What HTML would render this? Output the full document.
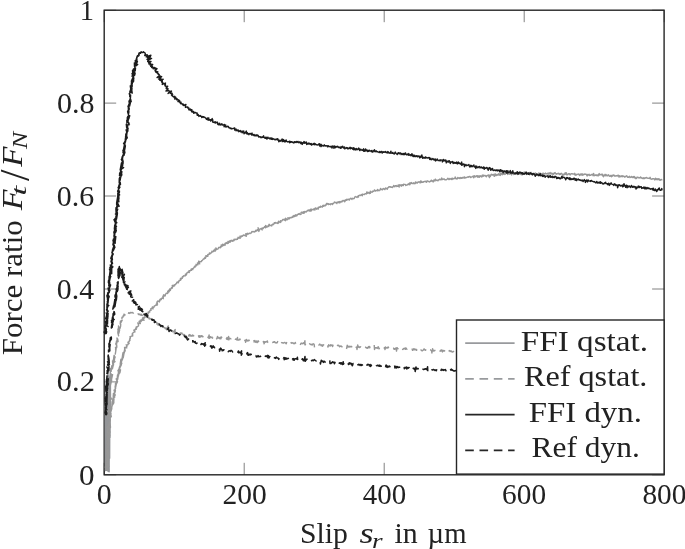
<!DOCTYPE html>
<html lang="en"><head><meta charset="utf-8"><title>Force ratio over slip</title>
<style>
html,body{margin:0;padding:0;background:#fff;}
body{width:685px;height:549px;overflow:hidden;}
svg{display:block;}
text{font-family:"Liberation Serif","DejaVu Serif",serif;font-size:28.4px;fill:#222;}
.it{font-style:italic;font-size:29.4px;}
.sub{font-size:20px;}
.sl{font-size:41.6px;}
.d{font-size:29.2px;}
</style></head><body>
<svg width="685" height="549" viewBox="0 0 685 549">
<rect x="0" y="0" width="685" height="549" fill="#fff"/>
<g stroke="#808080" stroke-width="1" fill="none"><line x1="104.2" y1="474.8" x2="104.2" y2="462.8"/><line x1="104.2" y1="10.2" x2="104.2" y2="22.2"/><line x1="244.2" y1="474.8" x2="244.2" y2="462.8"/><line x1="244.2" y1="10.2" x2="244.2" y2="22.2"/><line x1="384.2" y1="474.8" x2="384.2" y2="462.8"/><line x1="384.2" y1="10.2" x2="384.2" y2="22.2"/><line x1="524.2" y1="474.8" x2="524.2" y2="462.8"/><line x1="524.2" y1="10.2" x2="524.2" y2="22.2"/><line x1="664.2" y1="474.8" x2="664.2" y2="462.8"/><line x1="664.2" y1="10.2" x2="664.2" y2="22.2"/><line x1="104.2" y1="474.8" x2="116.2" y2="474.8"/><line x1="664.1" y1="474.8" x2="652.1" y2="474.8"/><line x1="104.2" y1="381.9" x2="116.2" y2="381.9"/><line x1="664.1" y1="381.9" x2="652.1" y2="381.9"/><line x1="104.2" y1="289.0" x2="116.2" y2="289.0"/><line x1="664.1" y1="289.0" x2="652.1" y2="289.0"/><line x1="104.2" y1="196.0" x2="116.2" y2="196.0"/><line x1="664.1" y1="196.0" x2="652.1" y2="196.0"/><line x1="104.2" y1="103.1" x2="116.2" y2="103.1"/><line x1="664.1" y1="103.1" x2="652.1" y2="103.1"/><line x1="104.2" y1="10.2" x2="116.2" y2="10.2"/><line x1="664.1" y1="10.2" x2="652.1" y2="10.2"/></g>
<rect x="104.2" y="10.2" width="559.9" height="464.6" fill="none" stroke="#262626" stroke-width="1.4"/>
<g fill="none" stroke-linejoin="round" stroke-linecap="butt">
<polyline points="105.3,403.8 105.5,470.5 105.8,401.9 106.0,470.5 106.2,379.7 106.4,470.0 106.7,385.8 106.9,469.8 107.1,384.2 107.3,470.5 107.6,374.8 107.8,470.9 108.0,389.8 108.2,470.4 108.5,375.1 108.7,471.4 108.9,394.1 109.1,471.7 109.4,377.4 109.6,458.3 109.8,392.7 110.0,437.4 110.3,368.6 110.5,418.0" stroke="#939598" stroke-width="1.5"/>
<path d="M106.4 470.0 L106.2 469.8 L106.7 465.7 L107.0 467.2 L106.9 470.0 L105.4 467.5 L107.1 468.3 L105.5 466.2 L106.9 469.2 L106.4 465.0 L106.0 464.5 L106.4 461.3 L105.9 463.3 L106.7 462.5 L107.1 466.0 L107.3 458.0 L106.6 465.8 L107.4 459.3 L107.0 461.7 L107.9 462.3 L107.0 461.3 L106.4 460.8 L106.7 458.2 L106.4 458.7 M106.7 452.6 L108.5 450.5 L106.3 450.1 L107.0 453.5 L106.8 452.6 L106.2 450.9 L107.3 448.5 L107.2 447.8 L106.3 450.4 L105.8 449.7 L107.1 449.6 L106.4 448.6 L107.6 447.5 L107.1 446.8 L107.7 441.9 L107.1 446.5 L108.1 445.6 L107.7 443.6 L108.1 445.9 L107.4 444.3 L106.8 443.0 L106.7 440.9 L107.0 444.6 L107.7 438.8 L107.1 441.7 M107.6 438.0 L108.5 430.9 L106.9 434.8 L108.0 436.4 L108.7 429.9 L107.5 433.7 L107.5 430.4 L108.5 433.7 L108.0 432.0 L108.4 434.4 L108.2 434.4 L108.5 432.0 L107.9 429.7 L106.9 427.4 L108.6 423.7 L107.6 430.1 L108.5 425.5 L107.7 428.2 L109.0 426.9 L107.9 429.0 L108.5 428.5 L108.7 426.6 L108.0 426.9 L108.4 424.0 M107.4 416.9 L108.9 417.3 L109.6 416.0 L108.1 418.1 L107.6 415.5 L108.9 418.9 L108.7 412.8 L106.4 414.7 L108.3 414.2 L107.9 412.8 L108.1 413.5 L109.9 413.6 L109.5 410.2 L108.7 411.8 L108.8 413.4 L109.8 410.2 L108.1 413.9 L109.5 406.8 L108.6 409.9 L109.5 409.0 L109.4 404.1 L108.9 403.7 L109.7 407.4 L109.5 405.8 M109.3 406.8 L109.6 401.6 L110.0 397.9 L109.2 402.3 L108.6 397.0 L110.5 397.1 L109.0 398.6 L110.7 398.2 L109.9 397.4 L111.4 398.9 L110.4 397.2 L110.0 396.2 L110.4 394.4 L109.2 393.4 L109.9 396.1 L109.8 392.4 L109.8 395.1 L108.8 393.3 L108.8 391.8 L110.4 392.2 L110.1 391.8 L109.9 390.5 L110.0 391.7 L109.7 391.4 M110.1 386.3 L111.3 381.5 L111.3 381.6 L111.4 381.8 L110.4 381.7 L111.2 379.2 L111.7 380.0 L110.7 383.6 L111.0 379.1 L110.5 379.7 L111.4 379.9 L111.3 377.6 L111.6 378.6 L110.5 383.9 L112.6 374.6 L111.4 375.0 L110.5 376.8 L111.4 376.9 L111.7 375.2 L111.9 377.7 L111.3 374.0 L111.2 374.6 L111.3 374.3 L111.2 374.9 M111.1 371.9 L111.5 367.7 L111.8 365.8 L111.3 368.8 L112.4 368.8 L113.3 365.0 L113.3 363.1 L112.9 365.2 L112.5 360.9 L113.5 364.9 L113.4 359.2 L114.2 362.2 L115.0 361.7 L113.9 360.1 L114.2 360.3 L115.0 356.8 L114.1 355.4 L113.7 358.2 L113.7 359.1 L113.9 360.7 L114.5 359.5 L114.6 357.4 L115.2 357.2 L114.4 356.5 M115.2 354.6 L116.1 348.9 L115.6 350.0 L115.7 347.4 L115.5 347.6 L116.0 348.3 L116.7 347.8 L116.7 345.2 L116.2 347.4 L116.6 346.9 L116.9 346.0 L115.7 343.8 L116.5 343.2 L117.5 340.8 L116.0 344.1 L116.5 341.0 L116.7 344.3 L116.6 341.3 L117.4 341.8 L117.0 338.0 L117.3 339.8 L118.1 341.6 L117.7 339.0 L116.3 338.7 M117.7 332.4 L118.6 335.7 L117.9 331.9 L118.2 329.5 L118.1 333.9 L118.9 329.9 L118.9 333.2 L119.6 330.1 L118.7 329.4 L118.5 326.0 L119.0 330.6 L119.5 328.4 L120.6 326.4 L117.9 329.8 L118.7 327.1 L119.9 328.6 L120.2 327.8 L120.8 324.6 L120.2 323.9 L122.2 320.1 L120.6 321.6 L120.4 321.1 L120.3 323.7 L120.4 323.5 M122.3 318.8 L121.8 318.1 L122.2 317.7 L122.1 317.1 L123.1 317.0 L123.1 316.3 L123.2 315.7 L124.1 315.7 L124.0 315.0 L123.9 314.2 L125.2 314.8 L125.4 314.5 M128.4 313.9 L128.7 312.6 L129.3 313.0 L129.9 313.4 L130.3 312.7 L130.8 312.4 L131.3 312.6 L131.8 312.9 L132.4 312.4 L132.8 312.9 L133.3 313.1 L133.8 312.7 M137.9 313.3 L138.2 314.1 L138.6 314.5 L139.1 314.6 L139.8 314.0 L140.0 314.8 L140.5 315.0 L141.3 314.3 L141.5 315.3 L142.1 315.1 L142.6 315.1 L143.0 315.6 M146.4 316.6 L146.9 316.7 L147.2 317.2 L147.6 317.6 L148.3 317.1 L148.7 317.4 L148.9 318.2 L149.1 318.9 L149.9 318.3 L150.1 319.0 L151.0 318.5 L151.2 319.1 M154.4 321.5 L154.8 321.9 L155.6 321.6 L155.9 322.0 L156.1 322.6 L156.8 322.6 L157.0 323.0 L156.9 324.1 L158.0 323.4 L158.2 323.9 L158.1 325.2 L159.0 324.5 M162.0 327.5 L162.8 327.0 L163.5 326.7 L163.8 327.3 L164.1 327.7 L164.8 327.6 L165.2 327.8 L165.3 328.8 L166.0 328.5 L166.4 328.8 L168.3 326.0 L166.8 330.5 M170.5 331.0 L171.1 330.7 L171.4 331.3 L172.2 330.8 L172.7 330.8 L172.8 331.9 L173.4 331.7 L174.0 331.6 L175.2 329.5 L174.4 333.6 L175.5 331.9 L175.9 332.1 M179.5 334.1 L180.2 333.2 L180.8 333.0 L181.1 333.7 L181.8 332.9 L182.1 333.9 L182.6 334.1 L183.1 334.1 L183.4 335.0 L183.9 335.2 L184.5 334.6 L185.1 334.3 M188.6 334.5 L188.9 336.1 L189.6 334.6 L190.0 335.8 L190.6 335.0 L190.9 336.0 L191.5 335.8 L191.9 336.1 L192.6 335.0 L193.0 335.9 L193.5 335.5 L194.0 336.3 M198.0 336.0 L198.5 335.8 L198.9 337.0 L199.5 335.7 L199.9 337.2 L200.4 336.9 L201.0 335.6 L201.5 335.6 L202.0 336.7 L202.5 336.1 L202.9 336.8 L203.4 337.3 M207.5 336.8 L207.9 337.2 L208.4 338.0 L209.1 335.0 L209.4 338.4 L209.9 337.8 L210.5 336.7 L210.9 337.5 L211.4 337.4 L212.0 337.1 L212.4 338.2 L212.9 337.3 M216.4 338.0 L216.8 338.9 L217.5 336.5 L217.9 338.1 L218.4 337.9 L219.0 337.4 L219.4 338.5 L219.9 338.7 L220.5 337.2 L220.9 338.8 L221.5 337.0 L221.9 338.0 M225.8 339.2 L226.4 338.9 L227.0 337.6 L227.3 339.5 L227.9 339.0 L228.6 336.5 L228.8 339.9 L229.4 338.4 L229.9 338.2 L230.4 338.7 L230.9 338.9 L231.4 338.8 M234.9 338.9 L235.4 339.3 L235.9 339.0 L236.4 339.1 L236.8 339.9 L237.5 337.5 L237.8 340.1 L238.3 339.8 L238.8 340.0 L239.3 339.9 L239.9 338.9 L240.3 340.2 M244.3 340.1 L244.8 340.5 L245.3 340.2 L245.6 342.4 L246.4 339.5 L246.8 340.8 L247.3 340.2 L247.7 341.0 L248.3 340.9 L248.8 340.1 L249.3 340.4 L249.8 340.7 M253.9 340.0 L254.2 342.1 L254.8 340.5 L255.3 341.1 L255.7 342.3 L256.2 342.1 L256.8 340.9 L257.2 342.6 L257.7 341.7 L258.3 340.9 L258.7 341.7 L259.2 341.9 M262.7 342.0 L263.2 341.8 L263.8 341.5 L264.1 343.9 L264.8 341.6 L265.3 341.6 L265.7 342.2 L266.2 341.8 L266.7 341.8 L267.3 340.9 L267.7 342.2 L268.2 342.6 M272.2 342.4 L272.7 342.5 L273.2 341.9 L273.7 342.3 L274.3 341.7 L274.8 341.7 L275.2 342.8 L275.7 342.7 L276.2 343.0 L276.7 342.6 L277.2 342.7 L277.8 341.1 M281.2 342.2 L281.7 342.7 L282.2 342.9 L282.7 342.8 L283.2 343.1 L283.7 343.1 L284.2 342.6 L284.7 342.4 L285.2 342.8 L285.7 343.2 L286.2 343.8 L286.8 342.1 M290.8 342.1 L291.2 343.0 L291.7 343.2 L292.2 342.8 L292.7 343.1 L293.2 342.9 L293.7 343.7 L294.2 343.5 L294.7 343.7 L295.2 342.5 L295.7 343.1 L296.2 343.0 M300.1 344.8 L300.7 344.0 L301.2 343.1 L301.7 343.5 L302.2 343.6 L302.7 343.7 L303.2 342.8 L303.7 343.3 L304.2 343.7 L304.9 340.8 L305.1 345.0 L305.7 343.9 M309.2 344.1 L309.7 343.7 L310.2 344.4 L310.7 344.6 L311.2 344.3 L311.7 344.5 L312.1 345.1 L312.7 344.0 L313.2 344.0 L313.7 343.8 L314.2 344.6 L314.5 347.3 M318.6 345.6 L319.2 344.7 L319.7 344.1 L320.2 344.6 L320.7 344.8 L321.1 345.8 L321.7 344.8 L322.2 345.0 L322.6 346.2 L323.1 345.2 L323.7 344.8 L324.2 344.8 M327.6 345.4 L328.0 347.1 L328.7 344.7 L329.1 345.6 L329.6 345.4 L330.1 346.1 L330.7 344.7 L331.2 345.1 L331.6 345.5 L332.2 345.0 L332.6 346.5 L333.2 344.6 M337.1 345.9 L337.7 345.3 L338.2 345.4 L338.7 345.3 L339.1 346.3 L339.6 346.8 L340.1 346.0 L340.6 346.3 L341.1 346.0 L341.6 346.7 L342.1 346.8 L342.6 346.8 M346.5 349.0 L347.2 345.3 L347.6 346.3 L348.1 347.0 L348.6 346.3 L349.1 347.1 L349.6 346.3 L350.1 346.9 L350.6 346.9 L351.1 346.3 L351.6 346.6 L352.1 347.3 M355.6 347.6 L356.1 347.3 L356.6 347.0 L357.0 349.5 L357.7 344.9 L358.1 347.3 L358.6 346.5 L359.1 346.8 L359.6 347.5 L360.1 346.8 L360.6 346.9 L361.1 347.2 M365.1 346.9 L365.6 347.2 L366.1 347.7 L366.6 348.1 L367.1 347.6 L367.6 348.2 L368.1 347.5 L368.6 346.6 L369.1 347.9 L369.6 346.5 L370.1 347.5 L370.6 347.6 M374.2 345.0 L374.5 349.5 L375.1 347.7 L375.6 347.9 L376.1 347.8 L376.6 347.6 L377.1 348.4 L377.6 348.1 L378.1 346.7 L378.6 347.2 L379.0 348.8 L379.6 347.8 M383.6 348.1 L384.1 348.1 L384.6 347.6 L385.0 349.6 L385.6 346.9 L386.1 348.1 L386.6 347.8 L387.1 347.6 L387.6 348.0 L388.1 346.9 L388.6 347.5 L389.1 347.8 M393.1 348.0 L393.6 348.2 L394.0 349.3 L394.5 349.2 L395.1 348.5 L395.5 349.0 L396.1 347.8 L396.5 351.1 L397.1 347.6 L397.6 348.5 L398.1 348.6 L398.6 348.7 M402.0 349.3 L402.5 349.4 L403.0 349.5 L403.6 348.5 L404.1 348.6 L404.6 348.8 L405.1 347.9 L405.5 349.3 L406.1 348.1 L406.6 348.9 L407.0 349.4 L407.5 349.4 M411.6 349.0 L412.1 349.1 L412.5 350.4 L413.1 349.0 L413.5 349.8 L414.1 348.7 L414.5 349.6 L415.0 349.9 L415.6 349.1 L416.1 349.1 L416.5 350.4 L417.1 349.3 M420.5 349.6 L421.0 349.8 L421.5 350.5 L422.0 350.8 L422.5 350.7 L423.0 350.2 L423.5 349.9 L424.1 348.8 L424.5 349.8 L425.0 349.6 L425.5 350.3 L426.1 349.4 M430.0 349.8 L430.5 349.9 L431.0 350.3 L431.5 350.6 L431.9 353.0 L432.6 348.6 L433.0 349.9 L433.5 351.1 L434.0 350.3 L434.5 350.8 L435.0 350.5 L435.5 350.7 M439.5 351.3 L440.0 351.2 L440.5 350.3 L441.0 351.0 L441.6 349.9 L442.0 350.8 L442.5 351.9 L443.0 350.3 L443.5 351.1 L444.0 350.6 L444.5 351.0 L445.0 350.4 M448.5 350.6 L449.0 350.8 L449.5 350.5 L450.0 351.5 L450.5 351.3 L451.0 350.7 L451.5 351.8 L452.0 351.5 L452.5 352.1 L453.0 351.8 L453.5 351.5 L454.0 351.0" stroke="#979797" stroke-width="1.4"/>
<path d="M107.3 470.0 L108.8 470.0 L107.1 469.8 L107.1 470.0 L106.7 464.4 L107.0 465.2 L107.4 467.6 L107.7 465.0 L107.4 465.4 L108.7 466.6 L107.9 463.1 L107.9 465.1 L108.4 464.7 L107.9 465.1 L107.3 462.1 L106.7 462.7 L107.9 460.9 L107.1 462.7 L108.5 460.8 L107.2 462.3 L106.4 458.3 L107.7 459.1 L108.4 458.4 L107.6 457.7 L107.8 460.0 L107.9 455.9 L109.0 452.9 L107.9 459.8 L107.7 459.5 L107.4 458.5 L106.9 453.3 L108.7 454.3 L108.7 451.9 L107.4 452.0 L108.3 452.6 L108.2 451.9 L107.7 452.3 L107.8 449.8 L108.4 453.3 L107.2 451.3 L107.7 449.5 L108.1 445.9 L108.0 450.5 L107.9 450.7 L108.2 449.1 L108.5 445.6 L107.6 447.5 L108.3 443.9 L107.7 449.7 L109.2 443.3 L107.5 442.9 L108.0 447.3 L108.7 443.7 L108.2 441.1 L108.1 442.8 L108.1 440.5 L108.7 437.3 L107.7 440.9 L108.3 441.6 L108.3 442.1 L107.6 438.7 L108.6 439.9 L108.2 439.4 L108.7 438.7 L109.1 436.7 L108.7 439.7 L107.7 440.0 L108.6 441.4 L107.8 433.6 L108.2 435.3 L109.8 432.0 L108.7 434.5 L109.6 435.5 L108.7 432.5 L108.8 433.2 L108.0 435.0 L109.3 433.8 L108.9 428.0 L109.3 430.3 L109.2 429.7 L109.2 430.6 L109.1 430.9 L109.0 427.2 L109.0 428.7 L108.5 429.5 L107.7 427.7 L109.3 428.8 L110.4 426.2 L109.9 423.8 L110.5 427.3 L109.7 422.2 L108.6 425.8 L108.7 423.7 L109.6 425.2 L109.5 423.5 L109.3 422.4 L109.8 422.9 L108.8 422.9 L109.7 422.4 L109.2 422.1 L109.4 423.2 L110.3 420.1 L109.6 418.2 L110.7 416.8 L110.6 416.8 L109.8 412.6 L111.3 416.5 L109.0 417.4 L110.3 412.4 L110.2 417.7 L108.9 412.9 L110.5 416.5 L110.9 413.5 L109.7 417.5 L110.7 411.4 L110.4 412.9 L110.0 414.0 L111.8 408.5 L110.7 409.6 L110.7 410.5 L110.7 411.7 L111.4 409.9 L111.6 409.6 L110.6 407.1 L110.4 406.3 L111.0 409.0 L111.2 408.3 L110.7 407.6 L111.3 408.9 L111.9 407.0 L112.1 405.5 L113.4 403.7 L112.2 401.6 L111.9 405.4 L113.8 402.5 L112.7 403.8 L112.9 398.1 L112.9 402.0 L113.8 400.5 L113.8 403.0 L113.2 402.1 L114.0 399.7 L112.5 400.0 L113.4 398.2 L113.6 401.7 L113.3 396.5 L113.3 399.2 L113.4 393.4 L114.7 397.2 L114.4 393.8 L113.9 398.3 L113.5 394.0 L113.2 396.1 L115.3 395.2 L114.3 393.4 L114.1 393.6 L115.1 392.1 L115.4 390.6 L114.0 390.1 L114.4 391.1 L114.6 393.3 L114.9 391.7 L115.4 390.0 L114.3 393.2 L115.6 387.1 L115.6 388.6 L115.1 388.0 L115.6 385.2 L115.8 385.3 L116.0 385.7 L115.5 387.6 L115.9 384.5 L116.2 384.0 L115.9 385.9 L117.0 381.7 L116.9 382.3 L115.1 386.4 L117.3 382.1 L115.3 384.0 L117.7 379.1 L116.9 379.1 L117.0 382.5 L117.5 381.6 L116.2 378.9 L117.7 379.3 L118.3 375.4 L117.6 376.3 L117.8 377.9 L117.8 375.7 L117.1 380.3 L117.5 375.1 L119.0 373.8 L118.5 375.3 L118.5 375.9 L118.3 372.7 L120.5 369.9 L119.9 372.8 L118.2 374.6 L119.3 369.1 L117.9 375.1 L119.8 370.1 L119.6 371.8 L119.4 368.1 L117.9 370.9 L120.5 366.5 L119.8 368.0 L119.1 371.5 L119.3 371.5 L119.3 367.6 L120.8 364.1 L120.2 365.8 L120.7 365.6 L121.1 365.8 L121.0 363.2 L120.5 363.3 L121.8 363.3 L121.0 365.2 L121.7 360.4 L120.9 359.3 L120.2 364.1 L122.9 356.9 L122.4 359.5 L121.2 361.2 L121.2 363.6 L122.1 358.0 L122.3 357.7 L122.3 359.6 L121.4 361.3 L123.4 355.3 L122.9 358.2 L123.3 357.5 L124.5 350.5 L124.4 351.4 L123.2 353.0 L122.5 355.2 L124.2 352.9 L122.2 357.9 L123.0 352.6 L123.9 354.2 L123.0 354.5 L123.3 354.6 L125.2 350.4 L125.1 350.7 L125.0 350.0 L124.6 347.8 L125.0 351.1 L124.3 351.1 L124.9 348.1 L124.6 347.5 L126.8 347.8 L126.3 347.1 L126.5 346.6 L127.0 346.3 L126.8 345.7 L126.2 344.9 L127.6 344.9 L128.0 344.6 L128.0 344.0 L128.7 343.8 L129.1 343.4 L127.9 342.3 L128.3 341.9 L129.2 341.8 L129.1 341.2 L129.3 340.7 L129.9 340.5 L130.0 340.0 L129.6 339.2 L130.2 338.9 L129.9 338.2 L130.4 337.9 L130.2 337.2 L130.0 336.6 L131.0 336.5 L131.1 336.1 L132.2 336.0 L132.8 335.8 L132.2 334.9 L132.7 334.6 L132.3 333.9 L132.4 333.3 L133.0 333.1 L133.2 332.6 L133.8 332.4 L134.0 331.9 L135.0 331.9 L134.3 330.9 L133.8 330.1 L135.0 330.2 L134.9 329.5 L135.6 329.3 L136.3 329.2 L135.7 328.2 L136.2 328.0 L136.8 327.8 L136.3 326.9 L137.2 326.8 L137.6 326.5 L138.1 326.2 L138.5 325.9 L138.5 325.3 L138.7 324.8 L138.1 323.8 L137.8 322.9 L138.9 323.1 L140.3 323.5 L140.0 322.7 L139.1 321.4 L140.3 321.7 L141.0 321.6 L140.2 320.4 L141.7 320.9 L141.2 319.8 L142.5 320.3 L142.4 319.5 L144.1 320.3 L142.4 318.2 L143.5 318.5 L143.0 317.4 L144.5 318.0 L144.4 317.3 L145.1 317.2 L145.0 316.5 L144.8 315.6 L145.4 315.5 L145.4 314.8 L145.9 314.6 L146.7 314.7 L147.5 314.7 L147.7 314.2 L147.9 313.7 L147.8 312.9 L148.6 313.0 L148.3 312.0 L149.1 312.1 L149.8 312.0 L149.6 311.2 L149.8 310.7 L150.2 310.4 L151.0 310.4 L150.9 309.7 L150.8 308.8 L151.5 308.9 L151.6 308.3 L153.1 308.9 L152.7 308.0 L152.4 307.0 L153.5 307.3 L154.1 307.1 L154.3 306.6 L154.3 306.0 L154.9 305.8 L155.3 305.5 L155.9 305.4 L156.0 304.8 L157.1 305.2 L156.4 303.8 L157.5 304.2 L157.2 303.2 L156.8 302.1 L157.4 302.0 L157.4 301.4 L157.8 301.0 L159.4 301.9 L159.0 300.8 L159.9 300.9 L159.6 299.9 L160.3 299.9 L160.2 299.1 L161.3 299.6 L161.2 298.7 L161.5 298.3 L161.9 298.1 L163.3 298.7 L162.9 297.6 L163.4 297.4 L162.8 296.2 L163.4 296.0 L164.2 296.1 L163.6 294.8 L165.3 295.8 L165.2 295.0 L165.4 294.5 L165.7 294.1 L166.0 293.7 L166.3 293.2 L167.4 293.6 L167.5 293.0 L168.1 292.8 L167.7 291.8 L167.8 291.2 L169.2 291.8 L168.4 290.4 L169.0 290.3 L169.9 290.5 L170.4 290.3 L169.8 288.9 L170.5 289.0 L171.0 288.8 L171.3 288.3 L171.4 287.7 L172.4 288.0 L172.2 287.1 L172.7 286.9 L172.2 285.7 L173.4 286.2 L173.0 285.1 L174.5 285.9 L174.7 285.4 L174.7 284.6 L175.3 284.6 L175.7 284.2 L175.9 283.7 L176.5 283.6 L176.6 283.0 L176.8 282.6 L177.1 282.1 L178.5 282.8 L178.2 281.8 L178.5 281.4 L179.1 281.3 L179.0 280.5 L179.4 280.2 L180.2 280.3 L180.7 280.1 L180.9 279.6 L180.4 278.3 L181.4 278.7 L181.8 278.3 L182.3 278.2 L182.1 277.2 L182.4 276.8 L183.2 276.9 L183.2 276.2 L183.5 275.8 L184.3 275.9 L185.1 276.0 L185.1 275.3 L185.9 275.4 L185.4 274.1 L186.5 274.6 L186.6 273.9 L186.6 273.2 L187.1 273.1 L187.3 272.5 L188.0 272.5 L188.1 271.9 L189.3 272.5 L189.0 271.4 L189.0 270.6 L189.8 270.8 L190.4 270.7 L190.5 270.1 L191.4 270.3 L191.1 269.2 L191.4 268.9 L192.8 269.6 L192.5 268.6 L193.1 268.5 L193.5 268.1 L193.9 267.8 L194.0 267.3 L194.3 266.8 L195.2 267.1 L195.0 266.0 L195.6 266.0 L196.2 265.9 L196.1 265.1 L196.1 264.3 L197.2 264.8 L197.8 264.8 L197.9 264.1 L197.5 262.9 L198.8 263.6 L199.7 263.8 L198.7 261.9 L198.6 261.1 L200.0 261.9 L200.5 261.7 L201.1 261.7 L201.5 261.4 L201.6 260.7 L202.2 260.6 L202.5 260.2 L202.8 259.8 L203.1 259.4 L203.4 259.0 L204.2 259.1 L204.4 258.6 L204.5 257.9 L205.5 258.3 L205.1 257.1 L205.7 257.0 L206.2 256.9 L205.9 255.6 L206.8 256.0 L207.7 256.3 L208.0 255.9 L207.7 254.7 L208.2 254.5 L208.5 254.1 L209.2 254.2 L209.7 254.0 L209.5 252.9 L210.6 253.5 L210.9 253.1 L211.3 252.7 L211.5 252.2 L212.0 252.1 L211.9 251.1 L213.0 251.7 L213.4 251.5 L213.7 251.0 L213.8 250.2 L215.0 251.2 L215.3 250.8 L214.8 249.1 L215.9 249.9 L216.3 249.5 L215.9 247.9 L217.2 249.2 L217.7 249.0 L218.1 248.8 L218.4 248.2 L218.6 247.5 L219.0 247.4 L219.8 247.6 L220.4 247.7 L220.4 246.6 L220.8 246.5 L221.6 246.7 L221.2 245.0 L222.4 246.1 L222.6 245.5 L222.5 244.2 L223.8 245.5 L223.7 244.4 L224.6 245.0 L225.2 245.1 L225.0 243.5 L225.4 243.3 L226.2 243.6 L226.2 242.5 L227.3 243.6 L227.6 243.0 L228.2 243.2 L227.9 241.5 L228.9 242.3 L229.4 242.3 L229.3 240.9 L230.4 242.0 L230.3 240.6 L231.1 241.2 L231.2 240.2 L232.2 241.1 L232.9 241.3 L232.9 240.3 L233.4 240.0 L234.1 240.5 L234.1 239.3 L234.7 239.4 L235.4 239.6 L235.7 239.2 L236.4 239.6 L236.8 239.2 L237.4 239.3 L237.4 238.1 L238.1 238.5 L238.1 237.3 L239.0 238.0 L239.6 238.2 L240.2 238.4 L239.9 236.2 L240.6 236.6 L241.2 236.9 L241.3 235.9 L242.1 236.4 L242.6 236.2 L242.8 235.5 L243.3 235.3 L243.6 234.9 L244.4 235.4 L245.0 235.7 L245.3 235.0 L246.3 236.2 L245.8 233.7 L246.5 234.0 L247.2 234.5 L247.3 233.3 L248.1 233.9 L248.7 234.0 L249.0 233.5 L249.4 233.1 L250.1 233.5 L250.5 233.1 L251.0 233.1 L251.4 232.8 L251.6 231.9 L252.0 231.5 L252.6 231.8 L253.2 231.9 L253.6 231.5 L254.3 232.0 L254.6 231.4 L255.3 231.6 L255.6 231.0 L255.8 230.3 L256.6 231.0 L257.0 230.6 L257.2 229.7 L257.8 229.8 L258.9 231.4 L258.1 227.8 L259.5 230.1 L259.7 229.3 L260.2 229.1 L260.6 228.8 L261.0 228.5 L262.1 229.9 L262.0 228.1 L262.5 228.0 L263.2 228.5 L263.5 228.0 L263.9 227.6 L264.3 227.3 L264.6 226.6 L265.6 227.7 L265.6 226.4 L265.7 225.4 L266.9 227.2 L267.4 226.8 L267.7 226.4 L268.0 225.8 L268.8 226.5 L268.8 225.1 L269.1 224.3 L270.0 225.4 L270.6 225.6 L271.1 225.3 L271.8 225.9 L272.0 225.1 L272.3 224.3 L272.8 224.1 L273.5 224.6 L273.7 223.9 L274.2 223.6 L274.3 222.6 L275.1 223.2 L275.3 222.5 L276.1 223.1 L276.6 222.9 L277.2 223.1 L277.8 223.5 L277.9 222.2 L278.7 222.9 L278.6 221.3 L279.4 221.9 L280.0 222.1 L280.7 222.5 L280.5 220.6 L281.2 220.9 L281.7 221.0 L282.1 220.7 L282.4 220.0 L282.7 219.5 L283.3 219.5 L284.0 220.0 L284.2 219.1 L285.3 220.7 L285.7 220.2 L285.5 218.2 L286.3 218.9 L287.1 219.7 L287.6 219.6 L288.0 219.2 L287.9 217.6 L288.6 218.0 L289.4 218.8 L289.7 217.9 L290.0 217.4 L290.7 217.8 L291.2 217.9 L291.5 217.2 L292.0 217.1 L292.7 217.4 L292.8 216.3 L293.2 215.9 L294.0 216.7 L294.0 215.4 L294.9 216.2 L295.1 215.3 L295.9 216.0 L295.9 214.7 L296.9 215.8 L297.2 215.2 L297.5 214.7 L297.9 214.2 L298.5 214.4 L298.8 213.8 L299.2 213.5 L300.1 214.6 L300.5 214.1 L301.1 214.3 L301.0 212.7 L301.4 212.2 L301.9 212.2 L302.9 213.3 L303.4 213.2 L303.3 211.6 L304.3 213.0 L304.5 212.0 L304.8 211.4 L305.5 211.9 L306.1 212.1 L306.5 211.5 L306.9 211.3 L307.3 210.8 L307.6 210.3 L308.3 210.7 L308.6 209.9 L309.5 211.0 L309.6 210.0 L310.5 211.1 L310.5 209.2 L311.5 210.8 L311.5 209.3 L312.0 209.2 L312.7 209.7 L313.3 209.9 L313.6 209.2 L314.0 208.8 L314.9 210.0 L315.1 209.0 L315.3 207.9 L315.9 208.3 L316.8 209.2 L317.0 208.3 L317.6 208.4 L318.3 209.0 L318.3 207.3 L318.9 207.7 L319.2 207.0 L319.8 207.2 L320.4 207.4 L320.5 206.1 L321.3 206.8 L321.7 206.7 L322.4 207.1 L322.6 206.0 L322.9 205.4 L323.7 206.2 L323.9 205.2 L324.6 205.8 L325.2 205.9 L325.4 204.9 L326.0 205.2 L326.3 204.6 L326.5 203.4 L327.2 204.0 L327.6 203.5 L328.4 204.6 L328.7 203.8 L329.3 204.2 L329.8 204.2 L330.5 204.7 L330.8 203.7 L331.2 203.6 L331.9 204.0 L332.5 204.5 L332.7 203.4 L333.3 203.5 L333.7 203.1 L334.1 202.6 L334.5 202.0 L335.2 202.8 L335.6 202.5 L336.1 202.4 L336.9 203.6 L337.1 202.2 L337.7 202.4 L338.1 201.9 L338.7 202.7 L339.0 201.7 L339.8 202.9 L340.0 201.5 L340.6 202.0 L341.2 202.0 L341.5 201.2 L342.1 201.7 L342.5 201.1 L342.9 200.5 L343.4 200.5 L344.0 201.0 L344.7 201.7 L344.9 200.2 L345.5 200.7 L345.8 199.8 L346.4 200.3 L346.7 199.3 L347.2 199.5 L347.8 199.8 L348.2 199.2 L348.7 199.4 L349.4 200.0 L349.7 199.2 L350.1 198.7 L350.5 198.3 L351.1 198.5 L351.9 199.4 L352.1 198.5 L352.6 198.3 L353.2 198.7 L353.7 198.6 L354.2 198.5 L354.5 197.6 L354.8 197.1 L355.1 196.5 L355.8 196.9 L356.3 196.9 L357.0 197.4 L357.4 197.0 L357.7 196.3 L358.5 197.0 L358.5 195.6 L359.0 195.5 L359.5 195.3 L360.0 195.2 L360.6 195.5 L360.9 194.9 L361.4 194.8 L362.3 195.8 L362.2 194.1 L362.8 194.2 L363.4 194.4 L364.0 194.6 L364.5 194.5 L364.8 193.9 L365.3 193.7 L365.8 193.6 L366.5 194.0 L366.6 192.9 L366.8 191.9 L367.8 193.2 L368.0 192.2 L368.7 192.7 L369.4 193.4 L369.6 192.5 L370.4 193.3 L370.3 191.2 L371.1 192.1 L371.6 192.1 L372.1 192.2 L372.4 191.1 L373.0 191.5 L373.5 191.4 L373.9 191.2 L374.2 190.2 L374.6 189.9 L375.5 191.1 L375.9 190.8 L376.3 190.5 L376.9 190.7 L377.5 190.9 L377.6 189.4 L378.4 190.5 L379.0 190.7 L379.4 190.3 L379.8 190.0 L380.3 189.9 L380.5 188.5 L381.1 189.0 L381.8 189.7 L382.4 189.9 L382.7 189.2 L383.1 188.5 L383.6 188.6 L384.2 189.1 L384.9 189.6 L385.2 188.8 L385.5 187.9 L386.1 188.5 L386.6 188.3 L387.3 189.3 L387.6 188.1 L388.0 187.7 L388.5 187.5 L388.8 186.7 L389.3 186.7 L389.9 187.0 L390.4 186.7 L391.0 187.2 L391.4 187.0 L392.0 187.4 L392.6 187.6 L392.9 186.7 L393.4 186.4 L393.7 185.4 L394.4 186.6 L394.9 186.7 L395.3 185.7 L395.8 185.9 L396.3 185.6 L396.9 186.5 L397.4 186.2 L397.9 186.4 L398.2 184.9 L399.1 187.1 L399.2 185.0 L399.7 184.8 L400.3 185.4 L400.7 184.9 L401.4 186.2 L401.7 184.8 L402.2 184.6 L402.8 185.5 L403.3 185.5 L403.6 184.2 L404.2 184.4 L404.7 184.4 L405.2 184.4 L405.9 185.5 L406.3 185.1 L406.8 184.9 L407.3 185.0 L407.7 184.2 L408.3 184.6 L408.7 184.0 L409.1 183.5 L409.8 184.8 L410.0 182.7 L410.7 183.7 L411.1 183.3 L411.5 182.6 L412.1 183.3 L412.6 183.5 L413.2 183.6 L413.6 182.8 L414.2 183.7 L414.6 183.3 L415.2 183.6 L415.5 181.9 L416.1 182.7 L416.6 182.5 L417.1 183.2 L417.5 182.3 L418.0 182.4 L418.5 181.9 L419.0 181.8 L419.5 181.9 L420.1 183.0 L420.5 181.7 L420.9 180.8 L421.6 182.4 L422.0 181.9 L422.6 182.4 L423.1 182.3 L423.5 181.7 L424.0 181.6 L424.5 181.5 L425.0 181.7 L425.5 181.2 L426.0 181.7 L426.6 182.3 L426.9 181.0 L427.4 181.0 L427.9 180.9 L428.5 181.6 L429.0 181.6 L429.6 182.0 L430.0 181.5 L430.5 181.0 L431.0 181.2 L431.4 180.1 L432.0 181.1 L432.5 180.8 L433.1 181.9 L433.6 181.4 L433.9 180.0 L434.4 180.1 L435.0 180.9 L435.3 179.1 L435.9 179.7 L436.5 180.4 L437.0 180.5 L437.4 180.2 L438.0 180.7 L438.4 179.8 L438.9 180.0 L439.4 179.7 L439.8 179.1 L440.4 179.8 L440.9 179.4 L441.4 179.7 L441.7 178.0 L442.4 179.6 L442.8 179.1 L443.3 179.0 L443.9 179.4 L444.3 179.0 L444.9 179.8 L445.4 179.9 L445.9 179.7 L446.4 179.7 L446.9 179.3 L447.4 179.0 L447.8 178.2 L448.3 178.7 L448.9 179.6 L449.4 179.3 L449.8 178.5 L450.3 178.8 L450.9 179.3 L451.3 178.5 L451.9 179.6 L452.3 178.1 L452.9 179.0 L453.4 178.9 L453.8 178.5 L454.3 178.5 L454.9 178.6 L455.2 176.9 L455.8 178.5 L456.4 178.9 L456.8 178.4 L457.4 178.8 L457.8 177.4 L458.3 178.0 L458.8 178.2 L459.3 177.8 L459.9 178.6 L460.3 178.1 L460.8 177.5 L461.3 178.3 L461.8 178.2 L462.3 177.4 L462.8 178.0 L463.3 177.8 L463.8 177.8 L464.2 176.8 L464.9 178.2 L465.3 177.8 L465.8 177.4 L466.3 177.6 L466.8 177.5 L467.3 177.1 L467.7 176.9 L468.3 177.2 L468.7 176.8 L469.2 176.8 L469.7 176.4 L470.3 176.8 L470.8 177.6 L471.3 177.1 L471.8 176.9 L472.2 176.7 L472.7 176.6 L473.2 175.9 L473.8 177.7 L474.2 176.3 L474.7 175.8 L475.3 176.8 L475.8 176.7 L476.2 176.2 L476.7 175.6 L477.2 175.6 L477.8 177.3 L478.2 176.3 L478.7 175.9 L479.3 177.4 L479.7 175.9 L480.2 175.7 L480.8 176.5 L481.3 176.4 L481.8 177.0 L482.2 175.1 L482.7 176.2 L483.1 175.0 L483.7 176.2 L484.2 175.5 L484.7 175.6 L485.2 175.4 L485.8 176.3 L486.3 176.7 L486.7 175.6 L487.2 175.5 L487.7 175.3 L488.2 175.9 L488.7 174.9 L489.4 177.6 L489.7 175.3 L490.3 176.4 L490.7 175.4 L491.1 174.5 L491.6 174.3 L492.2 175.0 L492.6 174.7 L493.2 175.0 L493.6 174.4 L494.3 176.4 L494.8 176.2 L495.1 173.8 L495.7 175.1 L496.3 175.5 L496.7 174.5 L497.2 174.5 L497.7 175.2 L498.2 174.8 L498.6 173.7 L499.3 175.1 L499.6 174.0 L500.3 175.4 L500.6 173.6 L501.0 172.8 L501.7 174.2 L502.2 174.8 L502.7 174.3 L503.2 174.0 L503.6 173.3 L504.2 174.4 L504.6 172.7 L505.2 174.3 L505.6 173.0 L506.1 173.3 L506.6 172.9 L507.1 173.1 L507.7 174.5 L508.1 172.9 L508.6 173.7 L509.1 173.1 L509.6 174.2 L510.1 172.7 L510.6 173.6 L511.1 174.1 L511.6 174.9 L512.1 172.8 L512.6 173.0 L513.1 173.5 L513.6 174.5 L514.1 172.9 L514.6 174.1 L515.1 173.2 L515.6 172.9 L516.1 172.6 L516.6 173.6 L517.1 174.2 L517.6 173.5 L518.1 172.3 L518.6 173.2 L519.1 174.1 L519.6 174.1 L520.1 173.7 L520.6 174.5 L521.1 172.8 L521.6 172.8 L522.1 175.0 L522.6 174.0 L523.1 173.4 L523.6 173.3 L524.1 172.0 L524.6 174.1 L525.1 172.3 L525.6 172.4 L526.1 173.5 L526.6 174.5 L527.1 173.3 L527.6 173.8 L528.1 173.3 L528.6 173.8 L529.1 172.5 L529.6 174.8 L530.1 173.0 L530.6 173.9 L531.1 172.3 L531.6 174.6 L532.1 173.8 L532.6 174.8 L533.1 173.2 L533.6 174.2 L534.1 173.4 L534.6 173.5 L535.1 174.4 L535.6 173.0 L536.1 174.0 L536.6 174.8 L537.1 174.6 L537.6 174.2 L538.1 173.8 L538.6 173.0 L539.1 174.5 L539.6 173.2 L540.1 174.3 L540.6 173.4 L541.1 173.6 L541.6 173.6 L542.1 174.0 L542.6 173.3 L543.1 173.7 L543.6 173.3 L544.1 173.9 L544.6 173.8 L545.1 173.9 L545.6 173.1 L546.1 173.8 L546.6 173.6 L547.1 174.0 L547.6 173.6 L548.1 173.0 L548.6 174.1 L549.1 173.2 L549.6 173.8 L550.1 172.4 L550.6 173.9 L551.1 174.0 L551.6 173.1 L552.1 174.0 L552.6 173.4 L553.1 174.5 L553.6 174.1 L554.1 172.9 L554.6 173.5 L555.1 172.6 L555.6 173.5 L556.1 174.0 L556.6 174.2 L557.1 173.6 L557.6 173.5 L558.1 173.8 L558.6 173.3 L559.1 173.9 L559.6 174.4 L560.1 173.8 L560.6 174.3 L561.1 173.3 L561.6 173.5 L562.1 174.0 L562.6 175.0 L563.1 174.4 L563.6 174.9 L564.1 173.9 L564.6 174.6 L565.2 172.8 L565.6 174.2 L566.2 172.6 L566.6 174.7 L567.1 174.2 L567.6 174.7 L568.1 174.2 L568.6 173.7 L569.1 173.6 L569.6 174.1 L570.1 175.0 L570.6 174.4 L571.1 173.8 L571.6 173.8 L572.1 173.7 L572.6 174.0 L573.1 174.1 L573.6 173.9 L574.1 174.2 L574.7 173.3 L575.1 175.2 L575.6 174.4 L576.1 175.2 L576.6 174.5 L577.1 174.2 L577.6 174.4 L578.1 174.5 L578.6 174.0 L579.1 174.1 L579.6 175.6 L580.1 175.0 L580.6 174.1 L581.1 174.8 L581.6 173.9 L582.1 175.3 L582.6 173.9 L583.1 175.0 L583.6 174.5 L584.1 174.5 L584.6 174.0 L585.1 174.4 L585.6 174.1 L586.1 174.1 L586.6 174.9 L587.1 176.1 L587.6 174.4 L588.1 175.2 L588.6 174.6 L589.1 174.2 L589.6 175.5 L590.1 175.1 L590.6 175.4 L591.1 174.8 L591.6 174.8 L592.1 174.2 L592.6 174.6 L593.1 175.8 L593.6 173.4 L594.1 175.0 L594.6 175.7 L595.1 175.3 L595.6 175.4 L596.1 174.7 L596.6 175.6 L597.1 175.6 L597.6 174.9 L598.1 175.9 L598.6 174.6 L599.2 173.5 L599.6 175.0 L600.1 174.9 L600.6 174.5 L601.1 174.7 L601.6 174.7 L602.1 174.0 L602.6 175.8 L603.1 175.1 L603.5 176.7 L604.1 175.1 L604.6 175.4 L605.1 174.3 L605.6 175.8 L606.1 174.6 L606.6 175.6 L607.1 175.9 L607.6 175.8 L608.1 174.8 L608.6 174.9 L609.1 175.9 L609.5 176.2 L610.0 176.3 L610.6 175.5 L611.1 175.5 L611.5 176.7 L612.1 175.2 L612.6 176.1 L613.1 175.5 L613.6 174.9 L614.1 175.1 L614.6 176.1 L615.1 175.9 L615.6 176.1 L616.1 175.7 L616.6 175.6 L617.1 176.1 L617.6 175.9 L618.1 175.1 L618.6 175.8 L619.0 177.1 L619.6 175.7 L620.0 176.5 L620.6 176.2 L621.0 176.7 L621.6 175.8 L622.1 175.6 L622.5 176.7 L623.1 176.0 L623.6 176.4 L624.1 176.3 L624.5 177.1 L625.0 176.7 L625.5 176.7 L626.1 176.1 L626.6 175.7 L627.1 176.2 L627.5 177.3 L628.0 177.2 L628.5 177.2 L629.1 176.6 L629.6 176.3 L630.0 177.6 L630.5 177.1 L631.0 177.3 L631.6 176.5 L632.1 176.7 L632.5 177.5 L633.0 177.6 L633.6 176.6 L634.0 177.4 L634.6 176.6 L635.0 178.0 L635.5 177.7 L635.9 178.7 L636.5 178.3 L637.1 177.1 L637.5 177.6 L638.0 177.2 L638.5 177.6 L639.0 178.1 L639.5 177.6 L640.0 177.7 L640.6 176.9 L641.0 178.1 L641.5 177.8 L642.0 178.2 L642.5 178.5 L643.0 177.9 L643.5 178.4 L644.0 177.7 L644.5 178.6 L645.0 178.1 L645.5 177.8 L646.0 178.1 L646.6 177.4 L647.0 177.9 L647.5 178.1 L648.0 178.4 L648.5 178.4 L649.0 178.1 L649.5 178.4 L650.1 177.3 L650.5 178.7 L650.9 179.0 L651.4 179.2 L651.9 179.4 L652.5 178.7 L653.0 178.9 L653.5 178.7 L654.0 178.7 L654.4 179.2 L654.8 180.0 L655.6 178.2 L656.0 179.0 L656.4 179.5 L657.0 178.8 L657.4 179.7 L658.0 178.8 L658.4 179.4 L659.0 178.7 L659.4 180.0 L660.0 179.4 L660.3 180.3 L660.9 179.8 L661.5 179.5 L661.9 179.9 L662.0 180.3" stroke="#979797" stroke-width="1.4"/>
<path d="M105.0 414.6 L105.7 414.6 L106.8 412.8 L106.7 414.2 L105.4 413.5 L105.1 412.5 L106.5 414.6 L106.3 411.6 L105.2 412.3 L106.8 403.5 L106.2 409.1 L106.9 409.8 L106.3 409.2 L106.6 409.4 L106.3 409.7 L105.5 407.9 L106.0 405.6 L105.7 406.6 L106.7 403.7 L105.6 405.5 L105.3 404.5 L106.7 401.0 L106.9 402.5 L107.1 404.1 L106.9 403.0 L105.4 401.0 L106.0 397.7 L105.9 401.6 L106.3 401.1 L105.1 398.1 L106.3 401.4 L106.5 399.7 L105.8 396.8 L106.5 396.9 L107.1 397.4 L106.5 395.8 L106.9 402.3 L107.1 394.1 L106.6 397.5 L106.6 398.4 L106.3 394.0 L107.3 392.7 L106.2 394.5 L106.1 395.2 L107.0 392.6 L106.2 392.2 L107.1 388.8 L107.4 389.7 L106.8 390.2 L106.9 387.9 L107.3 390.1 L107.1 391.0 L106.0 387.4 L106.1 386.9 L107.7 388.1 L107.1 388.7 L105.7 386.1 L105.9 391.1 L107.1 384.2 L106.5 384.1 L107.1 387.9 L107.2 384.0 L107.3 385.6 L106.6 381.6 L107.3 386.7 L108.3 384.0 L106.9 380.2 L108.2 378.9 L107.6 385.0 L107.7 381.2 L107.4 379.0 L106.6 380.3 L107.1 375.4 M108.1 372.7 L107.9 372.1 L107.0 370.8 L107.6 371.9 L106.9 373.4 L107.9 373.3 L107.2 372.7 L108.0 367.9 L108.0 373.1 L108.0 370.8 L108.8 369.8 L107.4 368.2 L106.9 366.9 L108.5 370.2 L108.8 370.7 L109.0 366.7 L108.5 363.7 L108.7 364.2 L108.4 364.7 L107.5 365.2 L108.0 363.6 L108.6 364.2 L108.1 361.5 L109.5 364.3 L107.5 361.8 L108.2 361.9 L109.2 360.1 L108.2 360.2 L108.2 355.0 L108.0 356.6 L108.4 356.1 L109.3 362.8 L108.9 358.9 L109.0 358.9 L108.5 356.1 L109.0 361.2 M108.6 352.5 L108.5 350.1 L109.8 350.9 L109.7 347.2 L109.3 348.7 L109.7 347.0 L109.0 351.3 L109.6 349.1 L109.1 349.8 L110.2 344.7 L108.9 345.8 L109.0 347.3 L109.6 347.1 L109.4 344.7 L109.9 346.6 L109.5 346.6 L109.5 343.2 L110.5 338.8 L109.5 343.7 L108.8 343.7 L109.0 344.5 L109.2 344.3 L109.9 340.2 L110.4 339.1 L110.7 340.3 L110.6 339.1 L111.4 339.2 L111.2 338.6 L109.9 341.3 L111.4 338.8 L111.3 337.1 L110.1 338.3 L110.7 337.2 M112.1 328.2 L111.9 327.2 L112.3 326.8 L111.3 328.0 L111.8 324.6 L111.6 327.9 L111.8 327.1 L112.8 324.8 L111.4 326.9 L113.3 321.1 L111.5 322.7 L112.3 320.0 L112.3 323.9 L113.0 324.2 L112.1 322.5 L111.4 320.8 L112.7 323.1 L112.7 320.6 L112.0 320.9 L112.5 317.1 L112.2 321.2 L113.1 317.3 L113.2 320.2 L111.9 320.2 L114.2 319.5 L112.8 319.8 L112.9 316.6 L113.8 314.4 L113.3 315.6 L114.8 314.3 L114.3 311.8 L113.2 313.9 L113.2 313.5 L113.1 314.0 L113.0 316.1 L114.2 311.0 M113.9 306.8 L114.0 307.6 L113.5 305.8 L112.8 309.1 L115.2 304.9 L113.7 306.3 L114.6 301.2 L115.9 300.6 L114.9 306.5 L114.6 301.7 L114.6 301.7 L114.7 303.1 L114.7 299.4 L115.4 301.0 L114.8 303.1 L115.3 299.6 L115.8 298.9 L116.0 297.9 L116.3 300.2 L116.8 296.0 L115.0 295.0 L116.0 298.5 L115.0 296.8 L115.1 295.1 L116.3 295.8 L116.3 290.6 L116.1 293.2 L116.6 295.2 L115.8 294.1 L116.0 292.2 L117.5 287.2 L117.3 291.6 L117.1 290.5 L116.0 289.0 L116.5 289.7 L117.5 284.7 L118.0 289.9 L117.9 286.8 L117.7 287.5 L118.2 286.1 L116.8 289.0 L118.2 282.8 L117.7 286.0 L117.0 285.1 L117.3 286.6 L117.8 285.7 L117.3 282.5 L118.6 281.4 M118.4 277.5 L118.6 278.4 L120.1 275.0 L118.7 271.3 L118.4 276.1 L117.9 275.1 L118.2 274.5 L119.7 270.6 L118.3 277.7 L118.0 271.3 L118.3 269.0 L118.6 273.1 L119.5 268.0 L118.4 268.9 L119.2 270.6 L118.6 268.6 L118.9 271.7 L119.2 269.1 L119.6 268.6 L118.6 268.8 L119.1 267.4 L119.4 267.6 L119.3 266.5 L119.3 267.5 L119.2 268.0 L119.0 268.7 L120.3 269.4 L119.4 267.2 L119.3 267.4 L121.5 271.0 L120.6 269.7 M121.2 272.7 L122.4 272.5 L122.4 275.7 L122.6 278.0 L121.9 277.5 L124.3 277.8 L121.9 277.0 L123.4 278.6 L123.6 277.5 L122.8 278.6 L123.0 277.0 M124.8 283.4 L124.2 284.2 L125.5 284.2 L124.5 285.1 L125.9 285.1 L127.0 285.2 L125.8 286.2 L127.3 286.1 L126.4 287.1 L126.0 287.8 L127.4 287.7 M128.5 291.6 L131.0 290.9 L128.1 292.9 L130.3 292.4 L130.6 292.8 L129.5 293.9 L130.2 294.1 L131.4 294.1 L130.5 295.1 L131.8 295.0 L131.7 295.6 M133.6 299.1 L133.6 299.7 L132.3 301.1 L133.8 300.7 L133.9 301.3 L134.5 301.5 L134.5 302.1 L134.6 302.6 L135.2 302.8 L135.6 303.1 L136.3 303.2 M137.7 307.2 L139.5 306.3 L138.2 308.0 L138.7 308.3 L138.2 309.3 L140.5 308.1 L140.9 308.3 L139.9 309.9 L141.9 308.8 L141.5 309.8 L142.1 309.9 M143.3 314.4 L144.3 314.1 L144.3 314.8 L146.3 313.5 L145.5 315.1 L146.7 314.4 L146.2 315.8 L146.6 316.0 L147.8 315.4 L147.4 316.6 L147.2 317.6 M150.9 319.5 L151.5 319.5 L152.3 319.3 L152.2 320.3 L152.8 320.2 L153.8 319.7 L154.1 320.0 L154.1 321.0 L154.7 321.0 L154.4 322.5 L155.3 322.0 L156.1 321.7 M158.6 324.3 L159.3 324.0 L159.5 324.8 L160.0 324.8 L160.2 325.5 L160.9 325.2 L160.8 326.5 L161.8 325.7 L162.1 326.2 L162.8 325.9 L163.0 326.6 L163.5 326.8 M166.7 329.3 L167.3 329.3 L168.6 327.7 L168.5 329.1 L168.6 330.0 L169.0 330.2 L169.0 331.4 L170.2 330.0 L170.8 330.0 L171.1 330.5 L171.5 330.9 L172.0 331.1 M175.6 332.7 L175.8 333.5 L176.7 332.8 L177.1 333.1 L177.5 333.4 L177.9 333.8 L178.5 333.7 L178.8 334.1 L179.2 334.6 L179.5 335.1 L180.2 334.7 L180.5 335.2 M183.8 336.5 L184.6 336.0 L185.1 336.0 L185.2 337.1 L186.1 336.3 L185.9 337.8 L186.8 337.2 L187.0 337.9 L186.9 339.0 L187.4 339.3 L187.6 339.9 L189.0 338.4 M192.7 340.0 L192.8 340.8 L192.8 341.9 L193.7 341.3 L194.0 341.8 L194.4 342.2 L195.2 341.5 L195.2 342.8 L195.6 343.1 L196.1 343.4 L196.6 343.4 L197.4 342.5 M200.8 343.6 L201.0 344.5 L201.8 343.5 L202.2 344.2 L202.7 343.9 L203.3 343.7 L203.5 344.8 L204.0 345.0 L205.2 342.7 L204.7 346.2 L205.6 344.8 L206.0 345.4 M209.8 346.6 L210.4 346.2 L211.1 345.7 L211.3 346.9 L211.6 347.8 L212.0 348.1 L213.1 345.8 L213.3 346.9 L213.8 347.3 L214.4 347.0 L214.7 347.8 L215.2 347.9 M219.1 348.6 L219.5 349.3 L219.6 351.2 L220.7 348.1 L221.1 348.7 L221.5 349.5 L221.9 349.8 L222.2 350.7 L222.9 349.9 L223.3 350.5 L224.0 349.7 L224.5 349.9 M227.7 351.4 L228.2 351.7 L228.8 350.9 L229.3 351.0 L229.9 350.8 L230.3 351.4 L231.0 350.4 L231.4 350.7 L231.9 350.8 L232.3 351.5 L232.7 351.9 L233.2 351.9 M237.3 352.1 L237.8 352.2 L238.5 351.0 L238.7 352.8 L239.2 352.6 L239.8 352.2 L240.2 353.0 L240.8 352.3 L241.6 350.8 L241.3 355.3 L242.1 353.6 L242.6 353.8 M246.1 353.7 L246.6 353.8 L247.4 352.6 L247.8 353.0 L247.9 355.1 L248.4 355.2 L249.1 354.2 L249.6 354.5 L250.0 354.9 L250.6 354.1 L251.1 354.3 L251.5 355.1 M255.5 355.5 L256.0 355.7 L256.3 356.8 L256.8 357.0 L257.3 356.6 L258.0 355.6 L258.4 356.4 L258.8 356.8 L259.4 356.4 L259.9 356.4 L260.4 356.4 L261.0 355.7 M265.0 355.7 L265.4 356.4 L266.0 355.9 L266.4 356.3 L266.9 356.6 L267.6 355.3 L267.8 357.8 L268.5 355.6 L268.8 358.0 L269.4 357.0 L269.9 356.5 L270.4 356.9 M273.8 357.8 L274.3 357.8 L274.9 357.6 L275.3 358.4 L275.8 357.8 L276.4 357.1 L276.8 358.0 L277.3 358.0 L277.8 357.9 L278.3 358.1 L278.7 359.4 L279.3 358.2 M283.3 358.8 L283.9 357.5 L284.2 359.7 L284.9 357.9 L285.3 359.2 L285.9 357.8 L286.3 358.4 L286.8 359.1 L287.3 358.4 L287.8 358.5 L288.3 358.4 L288.9 358.0 M292.3 359.6 L292.8 358.7 L293.2 359.9 L293.8 358.6 L294.2 360.3 L294.8 358.9 L295.3 358.8 L295.8 358.7 L296.3 359.0 L296.8 359.0 L297.4 357.3 L297.7 360.1 M301.8 360.0 L302.3 358.7 L302.8 358.9 L303.2 360.5 L303.7 360.8 L304.2 360.6 L305.0 356.5 L305.2 361.3 L305.7 360.4 L306.3 360.0 L306.8 359.0 L307.3 359.8 M311.3 360.0 L311.7 360.8 L312.3 360.1 L312.7 360.4 L313.2 360.7 L313.8 360.0 L314.3 359.6 L314.8 360.0 L315.3 360.4 L315.7 360.7 L316.2 360.9 L316.7 360.9 M320.1 362.1 L320.4 364.0 L321.3 360.3 L321.7 361.4 L322.2 361.1 L322.8 360.9 L323.1 362.1 L323.6 362.4 L324.2 361.2 L324.7 361.8 L325.2 362.0 L325.7 361.7 M329.8 360.4 L330.0 363.4 L330.5 363.5 L331.1 363.4 L331.6 362.6 L332.1 362.5 L332.7 361.7 L333.1 362.5 L333.6 362.6 L334.2 362.3 L334.5 363.8 L335.2 361.7 M338.6 363.2 L339.1 363.2 L339.6 363.0 L340.1 362.8 L340.6 363.9 L341.2 362.7 L341.6 363.0 L342.0 364.2 L342.5 364.5 L343.2 361.7 L343.5 364.3 L344.1 363.0 M348.1 363.1 L348.5 364.6 L349.2 362.7 L349.6 364.1 L350.1 363.1 L350.6 363.4 L351.1 363.2 L351.5 364.7 L352.1 364.1 L352.4 365.8 L353.1 363.6 L353.6 363.6 M357.6 364.2 L358.0 365.0 L358.6 364.3 L359.0 364.7 L359.6 364.6 L360.0 365.5 L360.6 364.5 L361.1 364.6 L361.5 365.5 L362.0 365.0 L362.5 364.9 L363.1 364.8 M366.6 364.4 L367.0 365.3 L367.6 364.5 L368.1 364.3 L368.6 364.8 L369.1 364.7 L369.5 365.9 L370.1 364.5 L370.5 366.4 L371.1 365.0 L371.5 365.6 L372.0 365.9 M376.1 365.1 L376.5 365.7 L377.0 365.5 L377.6 365.2 L378.0 365.8 L378.5 365.9 L379.1 365.1 L379.5 366.2 L380.0 365.4 L380.5 366.2 L381.0 365.9 L381.5 366.8 M385.0 366.5 L385.5 366.6 L386.1 365.0 L386.5 367.0 L387.0 366.9 L387.5 366.0 L387.9 367.4 L388.5 366.3 L389.0 366.6 L389.5 366.1 L390.0 366.8 L390.4 367.3 M394.6 365.5 L394.9 368.0 L395.5 367.2 L396.0 366.3 L396.4 367.9 L397.0 366.8 L397.5 366.6 L397.9 367.6 L398.4 367.6 L399.0 367.1 L399.5 367.3 L400.0 366.6 M404.0 367.1 L404.4 368.8 L405.0 367.4 L405.4 368.0 L405.9 367.8 L406.5 367.0 L406.9 369.0 L407.5 367.7 L408.0 367.5 L408.4 368.1 L409.0 367.5 L409.4 368.1 M413.0 367.6 L413.4 368.6 L413.9 368.6 L414.4 369.5 L415.0 367.9 L415.2 371.5 L416.0 367.0 L416.4 368.9 L416.9 368.4 L417.4 368.6 L417.9 369.0 L418.5 368.0 M422.4 368.9 L422.9 369.1 L423.4 369.5 L423.9 369.4 L424.4 369.0 L424.9 369.2 L425.4 368.7 L425.9 368.8 L426.4 369.3 L426.9 369.7 L427.6 366.7 L427.8 371.2 M431.4 370.0 L431.9 369.8 L432.4 370.1 L432.9 369.7 L433.4 369.5 L433.9 369.8 L434.4 370.0 L434.9 370.4 L435.4 369.9 L435.9 370.2 L436.3 370.6 L436.9 369.2 M440.8 371.1 L441.4 369.2 L441.9 370.0 L442.4 369.6 L442.9 370.1 L443.4 370.4 L443.9 369.6 L444.4 370.0 L444.9 370.0 L445.4 369.5 L445.9 370.8 L446.4 370.2 M450.4 368.9 L450.9 370.1 L451.4 369.1 L451.9 370.2 L452.4 369.9 L452.9 370.6 L453.4 370.5 L453.9 371.1 L454.4 370.8 L454.9 371.1 L455.4 370.6 L455.9 371.0" stroke="#1c1c1c" stroke-width="1.5"/>
<path d="M118.7 268.8 L118.2 269.2 L121.6 270.1 L118.3 269.1 L120.0 273.9 L122.1 269.2 L123.0 273.1 L121.8 273.4 L122.3 275.8 L122.5 273.6 M121.7 276.8 L124.5 274.3 L123.6 276.1 L124.1 280.3 L123.7 277.5 L123.5 280.4 L122.2 276.8 L123.4 281.2 L123.4 282.4 L125.0 281.8 L123.5 283.5 M125.3 285.4 L125.1 286.0 L126.0 286.1 L128.1 285.7 L126.3 287.1 L126.1 287.7 L128.5 287.2 L127.7 288.1 L126.6 289.2 L127.4 289.3 L127.0 290.1 M130.3 292.9 L129.1 294.1 L129.8 294.3 L130.9 294.3 L131.0 294.8 L131.3 295.3 L130.9 296.1 L130.6 296.8 L131.2 297.0 L132.0 297.2 L133.2 297.1 M133.4 301.6 L134.2 301.7 L133.4 302.8 L135.6 302.0 L134.5 303.2 L136.0 302.9 L136.0 303.5 L136.0 304.1 L135.7 304.9 L136.6 304.8 L138.1 304.3 M139.2 308.5 L140.4 308.1 L139.6 309.5 L141.0 308.9 L140.3 310.2 L141.5 309.8 L142.5 309.6 L141.6 311.1 L142.1 311.3 L142.4 311.7 L143.5 311.4" stroke="#1c1c1c" stroke-width="1.4"/>
<path d="M106.0 333.9 L106.7 331.8 L104.0 331.9 L105.1 333.8 L105.8 330.0 L105.2 330.3 L106.3 332.0 L106.2 329.2 L105.8 329.1 L105.0 328.6 L105.2 328.7 L105.6 327.2 L106.4 329.3 L105.4 327.6 L104.8 327.7 L105.4 325.1 L106.0 325.7 L107.5 326.0 L108.1 326.5 L106.1 324.8 L107.2 323.9 L107.5 324.0 L107.6 320.3 L106.7 320.3 L105.4 327.2 L106.1 325.1 L105.4 321.1 L106.8 321.2 L107.3 319.5 L105.5 318.9 L107.0 314.6 L106.9 320.6 L107.7 318.7 L108.1 313.3 L107.6 315.6 L106.5 315.0 L106.7 316.9 L107.7 318.7 L106.6 314.5 L107.0 314.2 L108.0 316.4 L107.1 314.7 L106.2 313.0 L106.9 314.2 L107.6 312.1 L107.1 311.2 L108.1 310.9 L108.1 311.4 L106.9 308.7 L107.1 307.6 L107.3 308.2 L106.5 310.0 L107.8 306.4 L107.3 308.4 L108.1 305.2 L107.0 308.5 L107.0 304.0 L108.8 305.5 L106.8 307.3 L107.2 305.0 L107.1 303.7 L107.5 302.8 L106.9 304.8 L107.6 304.6 L107.3 301.5 L107.4 302.3 L108.1 300.4 L108.4 298.9 L108.0 303.2 L107.4 298.9 L108.3 296.5 L107.8 299.0 L107.8 299.5 L106.9 295.8 L108.5 296.4 L108.0 294.6 L109.2 296.6 L108.4 298.4 L107.3 295.1 L107.1 295.2 L109.1 292.4 L107.6 293.0 L108.5 296.2 L107.9 294.8 L109.9 290.2 L108.5 290.0 L109.3 292.2 L109.3 290.5 L108.2 289.0 L108.3 288.5 L109.7 287.2 L108.6 287.9 L108.0 288.1 L109.4 288.0 L110.6 285.0 L108.4 290.9 L109.7 286.3 L108.7 285.3 L109.6 287.8 L108.8 283.8 L109.8 285.3 L109.6 281.8 L108.9 283.2 L109.4 281.1 L109.1 279.5 L108.5 280.6 L108.4 282.6 L109.0 283.5 L109.1 276.4 L109.7 279.7 L109.7 280.4 L110.0 278.2 L109.3 278.3 L110.0 275.8 L109.8 276.9 L110.8 276.6 L109.2 277.3 L109.9 274.5 L109.6 277.0 L110.2 273.2 L110.1 270.9 L109.4 276.5 L110.4 278.0 L110.1 271.2 L111.7 267.0 L111.7 273.7 L111.2 273.6 L109.5 269.2 L111.0 271.8 L111.0 270.6 L111.1 269.8 L109.9 267.4 L111.4 268.9 L110.3 266.9 L111.9 267.5 L111.7 268.3 L112.9 266.9 L110.8 267.4 L110.3 264.9 L111.8 266.9 L111.8 266.3 L111.6 260.7 L112.5 263.3 L112.1 262.8 L110.9 261.0 L111.4 262.4 L111.5 261.5 L111.9 259.8 L112.2 259.6 L111.2 261.9 L112.1 257.5 L112.4 259.9 L111.9 260.2 L111.8 259.4 L112.0 257.9 L112.7 253.4 L110.8 258.3 L112.6 255.3 L111.3 259.3 L112.7 254.7 L111.9 252.3 L113.3 254.2 L112.8 254.4 L112.0 252.1 L113.2 250.8 L112.6 250.3 L114.7 247.4 L113.5 250.3 L112.4 251.3 L113.3 250.0 L113.2 249.3 L114.1 248.6 L113.6 248.3 L113.8 247.4 L112.3 250.4 L114.2 245.1 L114.9 247.5 L113.8 248.1 L113.7 243.9 L114.1 242.1 L113.2 243.2 L113.9 243.4 L112.9 245.0 L114.4 237.0 L113.8 240.4 L113.2 243.9 L114.3 242.8 L113.0 240.5 L113.8 243.3 L113.3 239.3 L115.4 240.3 L115.8 236.4 L115.1 236.4 L115.2 243.3 L114.8 237.2 L114.5 240.0 L114.4 234.0 L113.9 235.4 L114.8 234.2 L114.0 236.8 L114.7 230.6 L115.6 229.8 L114.5 235.4 L113.8 231.9 L114.6 233.6 L114.3 231.8 L114.5 233.8 L114.5 227.0 L115.7 232.3 L116.3 230.5 L114.4 228.2 L115.5 230.1 L115.6 228.8 L114.4 228.8 L115.3 227.6 L116.1 229.2 L115.9 227.2 L116.5 226.3 L114.6 225.9 L115.0 224.6 L115.7 224.9 L116.0 222.3 L115.6 223.9 L115.4 223.1 L115.3 223.6 L115.3 222.8 L115.9 223.9 L114.0 219.6 L116.8 222.7 L115.4 221.3 L115.0 218.5 L116.5 218.0 L115.0 219.0 L116.0 221.9 L115.9 216.5 L116.6 216.3 L116.5 219.2 L117.3 214.4 L115.9 216.7 L116.0 217.1 L116.4 214.1 L115.4 214.1 L116.9 213.0 L116.3 216.0 L115.9 208.6 L117.4 213.1 L117.3 214.5 L115.9 209.5 L117.1 211.1 L117.7 209.3 L117.4 210.1 L116.2 208.9 L116.0 207.8 L116.7 209.3 L116.8 206.0 L117.0 207.8 L116.9 208.1 L117.5 205.7 L116.9 204.4 L117.1 205.3 L119.2 206.3 L117.3 202.6 L117.6 206.9 L117.4 204.9 L117.6 202.3 L116.6 204.5 L117.9 201.4 L117.5 201.0 L118.4 198.7 L118.9 201.8 L117.7 200.7 L118.4 198.3 L116.6 203.2 L118.6 191.7 L118.9 198.9 L117.8 198.4 L117.8 194.6 L118.2 196.0 L117.6 198.9 L118.2 193.7 L118.2 192.7 L119.6 195.0 L117.7 193.9 L118.2 191.9 L117.9 194.2 L119.5 191.2 L118.4 191.0 L119.4 192.4 L118.5 193.2 L118.7 190.4 L117.6 191.1 L119.9 187.1 L119.3 188.2 L119.4 186.4 L119.0 187.2 L118.8 186.4 L118.1 187.9 L120.0 184.7 L119.9 182.0 L119.0 185.6 L118.8 185.6 L119.5 184.3 L119.3 184.4 L120.5 184.5 L120.2 182.3 L119.2 182.5 L119.3 178.6 L119.6 181.0 L119.3 179.8 L120.2 178.1 L120.2 180.2 L120.8 176.2 L120.2 179.8 L119.8 179.6 L120.5 178.3 L119.6 177.2 L119.9 179.3 L121.0 176.2 L120.2 178.9 L120.0 172.2 L119.8 174.6 L119.4 175.2 L121.7 175.5 L119.6 173.7 L120.7 173.0 L121.9 174.3 L121.5 173.5 L121.9 171.6 L120.6 171.6 L121.9 168.3 L123.6 167.6 L121.3 169.1 L121.8 167.7 L120.9 170.7 L121.7 166.4 L121.8 167.2 L122.7 165.8 L121.5 162.9 L120.2 170.0 L121.9 164.6 L121.7 166.8 L123.1 163.1 L122.2 166.3 L121.5 164.1 L122.6 162.3 L123.2 161.1 L122.5 161.5 L121.9 162.7 L122.8 161.8 L122.5 158.4 L121.3 159.5 L123.1 162.7 L122.1 156.9 L122.7 157.3 L122.9 155.9 L122.6 157.8 L123.0 155.1 L121.8 158.2 L123.7 154.7 L123.1 156.2 L123.5 153.4 L124.4 152.4 L124.0 155.3 L124.4 153.5 L124.9 152.9 L124.4 150.0 L122.9 150.2 L123.6 153.7 L124.1 149.9 L124.3 148.8 L124.3 145.5 L123.0 152.5 L124.6 150.0 L125.4 145.8 L123.2 150.4 L124.5 149.8 L124.6 145.8 L124.7 144.3 L125.0 147.2 L124.9 144.3 L124.5 144.6 L125.5 141.4 L123.6 143.7 L125.0 141.4 L124.6 144.6 L124.2 142.6 L125.4 142.1 L125.9 139.2 L125.3 139.7 L125.2 141.9 L126.3 138.6 L126.7 138.0 L125.2 139.1 L126.0 139.0 L126.6 138.4 L125.5 140.8 L125.6 136.5 L125.7 135.9 L125.8 137.6 L125.8 133.9 L127.4 137.9 L125.9 135.5 L126.6 135.0 L127.2 129.6 L126.6 136.2 L126.6 131.3 L126.1 130.0 L128.0 130.9 L127.1 128.7 L126.8 132.5 L126.6 134.6 L128.1 128.1 L127.4 131.5 L127.9 129.3 L127.5 130.4 L127.6 125.5 L127.7 125.3 L126.7 127.9 L126.3 124.1 L127.3 125.3 L126.8 125.3 L129.4 124.6 L128.7 124.6 L128.6 122.4 L127.4 122.4 L129.1 123.4 L126.8 120.0 L126.9 122.7 L127.4 120.4 L127.4 119.7 L128.4 117.1 L128.1 120.6 L129.7 115.7 L128.9 118.3 L129.0 118.5 L128.4 118.9 L128.3 115.9 L127.9 116.4 L127.1 118.2 L127.6 117.8 L128.1 116.2 L128.9 116.0 L127.6 111.8 L127.9 110.8 L128.9 111.4 L128.0 111.8 L128.9 113.0 L128.5 111.5 L128.4 109.3 L128.3 106.3 L129.0 108.3 L128.4 110.1 L128.6 109.0 L128.5 109.5 L129.1 109.7 L129.2 108.0 L128.0 106.6 L129.5 103.0 L129.6 106.1 L130.3 103.0 L130.3 101.7 L129.6 104.5 L129.0 100.9 L129.1 102.2 L130.1 104.0 L129.2 102.1 L130.4 102.2 L130.6 102.2 L129.0 101.5 L130.2 100.4 L129.9 99.3 L131.2 101.6 L130.6 99.2 L129.4 101.7 L130.5 97.7 L129.7 96.4 L130.2 96.8 L130.5 96.1 L130.6 95.0 L130.5 97.0 L129.8 95.6 L129.3 93.5 L130.5 92.2 L130.1 92.8 L130.8 88.1 L132.2 93.1 L131.8 90.3 L131.0 89.2 L129.9 91.4 L129.9 92.2 L131.0 92.6 L131.9 89.5 L131.3 87.0 L131.4 88.2 L131.5 87.9 L132.0 88.6 L130.3 85.9 L131.0 91.0 L131.9 85.8 L132.3 85.8 L131.6 88.0 L131.7 80.3 L131.1 87.0 L130.6 85.8 L131.8 85.7 L132.6 80.6 L132.2 84.1 L131.8 80.4 L131.8 80.0 L133.6 80.5 L132.2 82.9 L133.6 81.3 L133.6 76.1 L131.3 81.2 L133.1 80.1 L133.8 78.4 L133.1 75.7 L131.9 76.1 L134.0 75.0 L132.8 78.0 L134.0 73.6 L132.0 73.4 L133.3 77.6 L132.5 70.5 L134.2 68.9 L134.3 74.6 L132.9 72.1 L133.5 69.0 L133.4 74.3 L134.7 75.2 L135.1 73.3 L134.0 71.1 L135.2 70.8 L135.5 68.0 L135.2 68.1 L134.7 70.6 L134.9 66.4 L136.5 63.5 L136.6 64.4 L137.7 64.5 L136.2 65.7 L134.4 62.9 L134.5 66.4 L136.4 62.7 L136.0 63.8 L135.2 60.7 L136.2 61.7 L135.6 64.3 L136.4 61.4 L136.9 58.8 L136.7 63.1 L137.4 61.5 L136.9 61.3 L135.5 62.0 L137.0 56.8 L137.6 55.6 L137.8 56.3 L137.4 56.8 L137.4 56.9 L137.4 55.7 L138.6 56.1 L138.8 55.6 L139.1 55.2 L138.7 54.4 L139.2 54.2 L138.8 53.3 L139.2 52.9 L139.8 52.8 L140.6 53.3 L140.9 52.6 L141.1 51.7 L141.9 52.4 L142.4 52.5 L142.9 52.3 L143.5 51.8 L143.8 52.5 L144.4 52.5 L144.9 52.8 L145.2 53.3 L145.3 54.0 L145.1 54.9 L144.8 55.6 L145.9 55.1 L147.2 54.7 L147.4 55.2 L147.6 55.7 L146.2 56.9 L150.9 55.3 L147.6 57.4 L150.5 56.8 L148.3 58.2 L147.0 59.3 L149.8 58.7 L151.6 58.5 L147.7 60.8 L147.7 61.5 L149.1 61.4 L148.5 62.3 L151.0 61.4 L149.1 63.1 L148.8 63.9 L150.2 63.6 L150.8 63.8 L150.0 64.9 L150.5 65.2 L152.7 64.4 L150.7 66.2 L151.7 66.3 L152.6 66.3 L151.6 67.5 L152.3 67.6 L152.8 67.9 L154.4 67.5 L153.2 68.8 L155.5 67.9 L154.8 69.0 L156.7 68.4 L157.0 68.8 L155.0 70.7 L155.8 70.7 L155.9 71.3 L155.7 72.0 L156.2 72.3 L157.8 71.8 L157.0 72.9 L157.5 73.2 L158.2 73.4 L158.1 74.1 L158.6 74.3 L159.2 74.5 L159.1 75.2 L158.8 76.0 L157.1 77.6 L160.4 76.1 L159.2 77.4 L161.6 76.6 L158.6 79.0 L160.9 78.2 L160.7 78.9 L159.7 80.1 L160.2 80.3 L163.2 79.2 L161.2 80.9 L162.3 80.9 L161.7 81.8 L162.4 82.0 L162.0 82.8 L162.8 82.9 L163.5 83.1 L162.3 84.4 L165.5 83.1 L164.6 84.2 L165.4 84.3 L164.8 85.2 L165.4 85.5 L165.3 86.1 L166.0 86.3 L166.2 86.7 L167.7 86.3 L166.3 87.8 L166.2 88.5 L167.4 88.2 L167.8 88.6 L168.1 89.0 L166.0 91.1 L167.8 90.4 L167.9 90.9 L168.9 90.8 L169.4 91.0 L170.1 91.1 L168.1 93.4 L171.5 91.1 L170.1 93.0 L170.6 93.3 L171.0 93.5 L172.1 93.3 L172.2 93.8 L171.5 95.2 L172.7 94.8 L172.2 95.9 L172.7 96.2 L173.1 96.5 L173.4 96.9 L174.7 96.3 L174.7 97.0 L174.5 97.9 L175.8 97.3 L174.8 99.1 L176.2 98.3 L176.3 98.9 L177.1 98.8 L176.8 99.8 L177.7 99.6 L177.9 100.1 L178.7 100.0 L178.0 101.6 L179.6 100.4 L179.1 101.8 L179.6 102.0 L179.9 102.4 L180.9 102.0 L180.4 103.4 L180.8 103.7 L181.6 103.5 L181.9 103.9 L182.5 104.0 L182.6 104.7 L183.6 104.2 L183.4 105.3 L183.9 105.5 L185.0 104.8 L185.9 104.4 L185.3 106.1 L185.7 106.4 L185.5 107.4 L186.4 107.1 L187.0 107.1 L187.8 106.9 L187.7 107.9 L188.3 107.9 L188.9 107.9 L188.9 108.8 L188.8 109.7 L189.6 109.5 L190.5 109.1 L190.3 110.2 L191.3 109.7 L191.9 109.7 L191.5 111.2 L192.3 110.9 L192.1 112.1 L192.8 111.9 L193.7 111.5 L193.7 112.4 L193.7 113.3 L194.7 112.7 L195.4 112.4 L195.7 112.9 L196.2 113.0 L196.8 113.0 L197.2 113.2 L197.1 114.5 L197.3 115.2 L198.2 114.5 L198.3 115.4 L198.7 115.7 L198.9 116.4 L200.0 115.5 L200.5 115.6 L200.7 116.3 L201.2 116.3 L201.6 116.7 L201.8 117.5 L202.7 116.6 L203.0 117.2 L203.8 116.7 L204.0 117.4 L204.6 117.3 L205.1 117.5 L205.4 118.0 L205.9 118.1 L206.2 118.8 L206.5 119.3 L207.6 118.0 L207.4 119.8 L208.7 117.9 L208.5 119.7 L208.9 120.2 L209.7 119.5 L210.0 120.0 L210.6 119.8 L210.7 121.1 L212.2 118.6 L212.1 120.2 L212.8 119.8 L212.7 121.4 L212.9 122.3 L213.4 122.4 L214.0 122.2 L214.5 122.1 L215.3 121.7 L215.2 123.1 L215.8 122.9 L216.7 122.2 L217.3 122.1 L217.6 122.7 L217.6 124.0 L218.0 124.2 L218.4 124.7 L219.5 123.3 L219.8 123.7 L219.9 125.0 L220.6 124.4 L221.0 125.0 L221.9 123.8 L222.2 124.6 L222.6 125.0 L223.1 124.9 L223.6 125.0 L224.4 124.4 L224.1 126.7 L224.9 125.9 L225.7 125.0 L225.6 126.9 L226.3 126.4 L226.6 126.9 L227.3 126.5 L227.9 126.3 L228.4 126.5 L228.6 127.3 L229.0 127.8 L229.5 127.8 L230.0 128.0 L230.3 128.6 L231.0 128.1 L231.3 128.7 L231.8 129.0 L232.4 128.6 L233.0 128.5 L233.6 128.4 L234.2 128.0 L234.7 128.0 L234.6 130.0 L235.4 129.3 L236.0 129.1 L236.0 130.7 L236.6 130.4 L237.3 129.9 L237.5 130.7 L238.3 130.1 L238.6 130.6 L238.8 131.7 L239.4 131.4 L240.2 130.6 L240.5 131.4 L240.8 131.9 L241.6 131.2 L242.1 131.1 L242.1 132.8 L243.1 131.5 L243.7 131.0 L243.9 132.1 L244.0 133.7 L244.8 132.7 L245.2 133.1 L246.3 131.1 L246.5 132.3 L246.6 133.7 L247.4 132.7 L247.5 134.0 L248.2 133.6 L248.7 133.7 L248.9 134.7 L249.8 133.4 L250.3 133.5 L250.7 134.0 L251.1 134.3 L252.0 133.1 L251.9 135.2 L252.6 134.7 L253.1 134.5 L253.5 135.2 L254.1 134.6 L254.3 135.8 L255.0 135.2 L255.4 135.8 L256.1 134.8 L256.5 135.3 L256.9 135.9 L257.6 135.1 L258.0 135.4 L258.4 136.0 L258.7 136.9 L259.3 136.7 L259.7 137.0 L260.3 136.7 L260.7 137.2 L261.1 137.7 L261.8 136.9 L262.2 137.2 L262.7 137.4 L263.6 135.8 L263.8 137.2 L264.2 137.6 L264.6 138.0 L265.3 137.3 L265.6 138.3 L266.3 137.3 L266.7 137.8 L266.9 139.1 L267.9 137.2 L268.2 138.1 L268.7 138.2 L269.2 138.3 L269.7 138.1 L270.0 139.1 L270.8 138.0 L271.3 137.9 L271.5 139.2 L272.3 138.2 L272.5 139.4 L273.1 139.2 L273.7 138.8 L274.1 139.2 L274.6 139.4 L275.0 139.9 L275.6 139.2 L276.1 139.6 L276.7 138.9 L277.1 139.7 L277.7 138.7 L278.0 140.1 L278.6 139.9 L278.8 141.7 L279.3 141.2 L280.0 140.3 L280.4 141.2 L280.9 140.8 L281.6 139.9 L282.2 139.0 L282.3 141.6 L282.9 141.1 L283.6 139.6 L283.9 141.4 L284.3 141.7 L285.0 140.6 L285.4 141.7 L286.1 140.0 L286.4 141.1 L286.9 141.4 L287.3 141.9 L287.9 141.7 L288.4 141.7 L288.9 142.0 L289.4 141.2 L289.8 142.7 L290.4 141.5 L290.8 142.3 L291.4 141.8 L291.9 141.7 L292.3 142.3 L292.8 142.3 L293.3 142.9 L293.8 142.8 L294.4 141.7 L294.8 142.5 L295.4 142.3 L295.9 141.7 L296.4 141.5 L296.8 142.5 L297.4 142.0 L297.9 141.4 L298.4 142.4 L298.8 142.7 L299.3 142.6 L299.9 141.8 L300.4 142.2 L300.8 143.6 L301.4 142.2 L301.9 142.6 L302.2 144.4 L302.8 143.1 L303.4 142.6 L304.0 141.6 L304.3 143.3 L304.9 142.1 L305.3 143.1 L305.9 142.6 L306.5 142.1 L306.7 144.5 L307.3 143.3 L307.7 144.1 L308.2 144.0 L308.9 143.0 L309.3 143.7 L309.8 143.4 L310.2 144.4 L310.7 144.1 L311.3 143.6 L311.6 145.1 L312.2 144.4 L312.7 144.4 L313.3 143.6 L313.7 144.5 L314.4 143.3 L314.7 144.7 L315.3 143.8 L315.7 144.6 L316.3 144.4 L316.7 144.8 L317.2 145.0 L317.7 144.8 L318.2 144.8 L318.9 143.9 L319.4 143.7 L319.6 146.0 L320.1 145.6 L320.8 144.2 L321.0 146.6 L321.7 144.9 L322.1 145.8 L322.6 145.8 L323.2 145.7 L323.6 146.1 L324.3 144.8 L324.7 145.8 L325.2 145.7 L325.6 146.0 L326.2 145.8 L326.7 145.6 L327.2 145.6 L327.5 146.8 L328.2 145.7 L328.6 146.6 L329.1 146.6 L329.6 146.4 L330.1 146.8 L330.6 146.9 L331.1 146.2 L331.6 146.9 L332.0 148.0 L332.7 146.0 L333.1 146.6 L333.6 146.3 L334.0 148.3 L334.7 146.0 L335.1 147.0 L335.5 147.7 L336.1 146.5 L336.6 147.0 L337.1 146.7 L337.6 146.3 L338.1 147.2 L338.5 147.6 L339.1 147.0 L339.6 147.5 L340.0 147.9 L340.5 148.3 L341.1 146.6 L341.5 147.9 L342.1 147.1 L342.7 146.3 L343.1 147.1 L343.5 148.1 L344.0 147.9 L344.6 147.0 L344.9 148.9 L345.5 148.1 L346.0 147.9 L346.6 147.6 L347.0 148.3 L347.6 147.8 L348.0 148.9 L348.5 148.4 L349.0 148.6 L349.5 148.0 L350.1 147.3 L350.5 148.7 L351.1 147.7 L351.5 148.4 L352.0 148.5 L352.6 148.0 L352.9 149.3 L353.6 147.7 L353.9 149.8 L354.5 148.4 L354.9 149.6 L355.4 149.9 L356.1 148.5 L356.5 148.6 L356.9 149.8 L357.4 149.4 L357.9 149.4 L358.6 148.1 L359.1 148.3 L359.4 149.9 L359.8 150.6 L360.5 149.2 L361.0 149.2 L361.4 150.0 L361.9 150.2 L362.4 150.4 L362.9 149.8 L363.6 148.8 L363.7 151.2 L364.4 149.9 L364.8 151.2 L365.6 149.0 L365.8 150.7 L366.4 150.2 L367.0 149.9 L367.3 151.4 L367.7 151.6 L368.4 150.4 L368.8 151.3 L369.4 150.2 L369.9 150.6 L370.4 150.9 L370.9 150.9 L371.3 151.6 L371.9 150.4 L372.3 152.0 L372.8 152.0 L373.3 151.2 L373.9 150.6 L374.5 149.8 L374.8 151.5 L375.4 151.1 L375.8 151.7 L376.4 150.9 L376.8 151.7 L377.3 151.7 L377.8 151.8 L378.3 152.0 L378.8 152.1 L379.2 152.6 L379.8 151.4 L380.3 152.5 L380.8 152.1 L381.3 151.7 L381.8 151.4 L382.2 153.1 L382.8 152.3 L383.3 151.8 L383.8 152.3 L384.3 152.2 L384.8 151.9 L385.3 151.4 L385.8 152.4 L386.3 152.3 L386.8 152.2 L387.2 153.1 L387.8 151.6 L388.3 151.8 L388.8 152.7 L389.2 153.2 L389.7 153.0 L390.2 153.2 L390.9 151.2 L391.2 153.1 L391.7 153.1 L392.2 153.3 L392.8 152.4 L393.2 153.2 L393.7 153.6 L394.2 154.1 L394.7 153.2 L395.3 152.1 L395.7 153.1 L396.2 153.6 L396.7 153.6 L397.1 154.6 L397.8 153.2 L398.3 152.7 L398.8 153.0 L399.2 153.9 L399.8 153.0 L400.3 152.9 L400.8 153.1 L401.1 154.6 L401.7 154.0 L402.2 153.6 L402.6 154.5 L403.1 154.5 L403.8 153.4 L404.1 154.7 L404.6 154.4 L405.4 152.9 L405.8 153.6 L406.1 154.6 L406.6 154.8 L407.2 154.4 L407.7 154.0 L408.1 154.9 L408.8 153.6 L409.1 155.3 L409.6 154.9 L410.1 155.0 L410.7 154.7 L411.0 155.8 L411.9 153.7 L412.2 154.8 L412.5 155.9 L413.2 155.1 L413.4 156.6 L414.0 156.0 L414.6 155.3 L414.9 156.6 L415.6 155.9 L416.0 156.5 L416.6 155.7 L417.1 155.8 L417.4 156.8 L418.0 156.5 L418.6 156.0 L419.1 155.9 L419.4 157.1 L419.8 157.9 L420.6 156.2 L420.9 157.3 L421.8 155.0 L422.1 156.1 L422.4 157.6 L422.8 158.3 L423.4 157.3 L423.9 157.7 L424.4 157.6 L424.8 158.2 L425.5 156.9 L425.8 158.1 L426.4 157.5 L426.9 157.6 L427.4 157.9 L427.9 157.9 L428.5 157.6 L428.9 158.0 L429.5 157.6 L429.7 159.4 L430.3 158.9 L430.9 158.2 L431.1 159.7 L431.7 159.6 L432.3 159.1 L432.9 158.5 L433.3 159.1 L433.7 159.4 L434.1 160.1 L434.8 159.1 L435.3 158.9 L435.5 160.9 L436.1 160.4 L436.7 159.8 L437.3 159.0 L437.7 160.1 L438.1 160.6 L438.6 160.4 L439.1 160.5 L439.7 160.1 L440.1 160.9 L440.8 159.8 L441.2 160.0 L441.7 160.1 L442.2 160.1 L442.4 161.9 L443.3 159.5 L443.6 160.9 L444.2 160.2 L444.8 160.1 L445.1 161.1 L445.8 160.0 L446.1 161.1 L446.3 162.8 L447.1 161.3 L447.5 161.8 L448.2 161.0 L448.5 162.0 L449.2 160.7 L449.5 161.9 L450.1 161.8 L450.3 163.5 L451.0 162.0 L451.6 161.9 L452.1 161.9 L452.6 161.5 L452.9 162.9 L453.3 163.5 L454.0 162.3 L454.4 163.2 L455.0 162.5 L455.4 163.1 L455.9 163.3 L456.6 162.1 L457.0 162.6 L457.3 163.9 L458.2 162.0 L458.4 163.4 L458.9 163.2 L459.5 162.9 L459.9 163.7 L460.3 164.0 L460.8 164.2 L461.7 162.1 L461.6 165.2 L462.4 163.8 L462.7 164.9 L463.3 164.2 L463.9 164.0 L464.3 164.4 L464.4 166.7 L465.1 165.7 L465.8 164.5 L466.3 165.0 L466.6 165.7 L467.2 165.4 L467.7 165.1 L468.3 165.0 L468.9 164.5 L469.1 165.9 L469.6 166.2 L469.9 167.1 L470.8 165.2 L471.1 166.2 L471.7 165.8 L472.0 166.7 L472.7 165.9 L473.2 165.6 L473.9 165.0 L474.1 166.7 L474.6 166.4 L475.0 167.2 L475.7 166.1 L475.8 168.4 L476.7 166.2 L477.0 167.1 L477.5 167.2 L477.9 167.7 L478.6 166.9 L479.2 166.5 L479.7 166.6 L480.0 167.9 L480.5 167.5 L481.0 167.7 L481.6 167.0 L482.0 167.8 L482.5 167.9 L482.9 168.3 L483.7 166.9 L484.1 167.5 L484.3 169.3 L485.0 167.9 L485.5 168.2 L486.0 168.1 L486.6 167.4 L487.1 167.8 L487.4 168.9 L488.0 168.3 L488.2 170.2 L489.1 167.8 L489.6 167.6 L489.9 168.8 L490.5 168.3 L490.7 170.2 L491.4 169.0 L491.8 169.7 L492.5 168.5 L492.8 170.0 L493.3 170.1 L493.7 170.6 L494.3 170.0 L494.8 170.2 L495.3 170.1 L495.7 170.7 L496.4 169.9 L496.7 170.6 L497.4 169.9 L497.7 170.9 L498.3 170.3 L498.9 170.1 L499.4 170.2 L499.6 171.7 L500.4 169.7 L500.9 169.9 L501.2 171.4 L501.9 170.4 L502.3 170.8 L502.8 170.9 L503.0 172.9 L503.8 170.9 L504.3 170.9 L504.7 171.2 L505.2 171.7 L505.6 172.0 L506.3 170.7 L506.6 172.1 L507.0 173.2 L507.8 170.7 L508.1 172.4 L508.6 172.6 L509.2 172.2 L509.7 172.0 L510.3 170.6 L510.6 173.1 L511.2 172.1 L511.7 172.2 L512.1 173.3 L512.8 170.8 L513.1 172.5 L513.6 173.0 L514.1 173.1 L514.6 173.1 L515.0 174.1 L515.6 172.9 L516.1 173.5 L516.6 173.4 L517.2 171.8 L517.7 172.4 L518.0 174.4 L518.6 172.8 L519.1 173.0 L519.7 172.1 L520.1 172.9 L520.7 172.2 L521.1 172.7 L521.6 173.6 L522.2 172.7 L522.6 172.9 L523.0 174.3 L523.6 173.7 L524.1 173.8 L524.6 174.1 L525.1 173.1 L525.6 173.2 L526.2 172.1 L526.6 174.1 L527.1 173.5 L527.6 173.7 L528.2 172.9 L528.6 174.2 L529.1 174.2 L529.6 174.0 L530.2 172.8 L530.6 173.3 L531.1 173.9 L531.6 173.4 L532.1 174.3 L532.5 174.8 L533.1 173.6 L533.6 174.1 L534.1 173.8 L534.5 175.0 L535.0 175.0 L535.3 176.3 L536.1 174.5 L536.6 173.9 L537.0 174.9 L537.6 174.5 L538.0 174.9 L538.4 175.7 L539.1 174.7 L539.5 175.5 L540.2 173.6 L540.4 175.8 L541.0 175.3 L541.5 175.1 L542.0 175.0 L542.3 176.4 L543.0 175.1 L543.3 176.4 L544.0 175.3 L544.5 175.7 L544.9 176.0 L545.2 177.2 L545.9 176.1 L546.4 176.1 L547.0 176.0 L547.5 175.9 L548.0 175.8 L548.2 177.5 L548.8 177.4 L549.5 176.0 L549.9 176.6 L550.5 175.8 L550.8 177.3 L551.3 177.2 L551.9 176.9 L552.5 176.3 L552.8 177.5 L553.3 177.4 L553.9 176.9 L554.3 177.6 L555.0 176.3 L555.4 176.8 L555.9 176.6 L556.3 177.4 L556.7 178.6 L557.3 177.5 L557.8 178.3 L558.3 177.6 L558.9 177.4 L559.3 178.4 L559.8 178.1 L560.2 178.8 L560.8 178.5 L561.4 177.3 L562.0 176.2 L562.3 178.1 L562.9 177.2 L563.4 177.1 L563.9 177.1 L564.4 177.8 L564.8 178.1 L565.3 178.3 L565.7 179.8 L566.4 177.6 L566.8 178.4 L567.4 177.6 L567.9 177.8 L568.3 178.6 L568.8 178.9 L569.4 177.8 L569.7 179.5 L570.3 178.1 L570.7 179.5 L571.3 178.8 L571.7 179.5 L572.2 179.4 L572.8 178.8 L573.2 179.4 L573.9 178.2 L574.4 178.3 L574.8 179.0 L575.2 180.2 L575.8 178.8 L576.3 178.9 L576.6 180.6 L577.2 179.5 L577.7 179.5 L578.3 178.9 L578.7 179.7 L579.2 180.1 L579.7 179.7 L580.2 180.3 L580.7 180.1 L581.1 180.7 L581.6 180.6 L582.2 180.0 L582.6 180.7 L583.0 181.5 L583.7 180.5 L584.3 179.5 L584.7 180.5 L585.2 180.4 L585.4 182.4 L586.1 181.2 L586.8 179.9 L587.2 180.7 L587.5 181.9 L588.3 180.1 L588.7 180.7 L589.1 181.1 L589.6 181.1 L590.2 180.8 L590.6 181.4 L591.3 180.4 L591.7 181.1 L592.2 181.1 L592.6 181.4 L593.1 181.5 L593.6 181.8 L594.1 181.6 L594.6 181.7 L595.0 182.3 L595.5 182.7 L595.9 182.9 L596.7 181.5 L597.0 182.5 L597.5 182.9 L598.1 182.3 L598.5 182.9 L599.0 182.5 L599.5 183.0 L600.2 181.7 L600.5 183.2 L601.0 182.6 L601.6 182.5 L602.0 182.9 L602.4 183.8 L602.9 183.9 L603.4 183.5 L603.9 183.9 L604.5 183.1 L605.1 182.6 L605.6 182.2 L606.0 183.6 L606.5 183.6 L606.9 183.8 L607.4 183.8 L607.8 184.7 L608.5 183.3 L609.0 183.4 L609.3 185.4 L609.9 184.6 L610.4 184.0 L611.1 182.8 L611.5 183.7 L611.9 184.1 L612.4 184.4 L612.9 184.6 L613.4 184.4 L613.8 185.4 L614.5 183.8 L614.9 184.5 L615.4 184.3 L615.8 185.4 L616.4 185.0 L616.8 185.5 L617.4 185.1 L617.6 187.7 L618.3 185.6 L618.9 184.7 L619.4 185.2 L619.9 185.0 L620.3 185.9 L620.8 186.1 L621.3 185.7 L621.8 185.4 L622.4 185.1 L622.7 186.8 L623.2 186.5 L624.0 183.7 L624.3 185.9 L624.9 185.3 L625.3 185.7 L625.7 187.2 L626.4 185.2 L626.9 185.4 L627.1 187.8 L627.8 185.9 L628.3 186.1 L628.7 187.1 L629.3 186.0 L629.8 186.4 L630.3 186.6 L630.7 187.5 L631.4 185.4 L631.8 186.0 L632.3 186.6 L632.7 187.3 L633.3 186.3 L633.7 187.1 L634.3 186.5 L634.8 186.6 L635.2 187.8 L635.8 186.8 L636.1 189.1 L636.7 187.3 L637.2 187.9 L637.7 187.7 L638.3 186.1 L638.8 186.2 L639.2 187.6 L639.8 186.6 L640.3 187.0 L640.8 187.2 L641.3 186.8 L641.7 188.4 L642.2 188.1 L642.7 187.7 L643.2 188.1 L643.8 187.1 L644.2 188.4 L644.8 187.2 L645.1 189.0 L645.8 187.4 L646.3 187.6 L646.6 188.8 L647.2 188.5 L647.8 187.5 L648.2 188.6 L648.7 188.2 L649.2 188.3 L649.6 188.8 L650.1 188.8 L650.6 189.2 L651.1 188.9 L651.7 188.8 L652.2 188.6 L652.5 189.7 L653.2 188.2 L653.5 190.2 L654.0 190.4 L654.5 190.5 L655.2 188.9 L655.4 190.6 L656.0 190.0 L656.5 190.0 L656.8 191.6 L657.6 189.5 L658.1 189.8 L658.7 188.6 L659.3 188.0 L659.6 189.9 L660.1 190.0 L660.5 190.3 L661.1 190.1 L661.8 188.6 L662.0 190.3" stroke="#1c1c1c" stroke-width="1.45"/>
</g>
<rect x="456.5" y="320" width="207.6" height="154.1" fill="#fff" stroke="#262626" stroke-width="1.4"/>
<g fill="none" stroke-width="1.7">
<line x1="465.2" y1="343.15" x2="514.6" y2="343.15" stroke="#989a9d"/>
<line x1="465.2" y1="378.9" x2="514.6" y2="378.9" stroke="#989a9d" stroke-dasharray="8.6 5.7"/>
<line x1="465.2" y1="414.6" x2="514.6" y2="414.6" stroke="#262626"/>
<line x1="465.2" y1="450.3" x2="514.6" y2="450.3" stroke="#262626" stroke-dasharray="8.6 5.7"/>
</g>
<g><text id="l1" x="520.79" y="350.5" textLength="127.27" lengthAdjust="spacingAndGlyphs">FFI qstat.</text><text id="l2" x="523.93" y="386.3" textLength="123.48" lengthAdjust="spacingAndGlyphs">Ref qstat.</text><text id="l3" x="528.79" y="422.2" textLength="113.12" lengthAdjust="spacingAndGlyphs">FFI dyn.</text><text id="l4" x="531.58" y="457.3" textLength="108.19" lengthAdjust="spacingAndGlyphs">Ref dyn.</text></g>
<g><text id="x0" class="d" x="96.86" y="503.8" textLength="14.93" lengthAdjust="spacingAndGlyphs">0</text><text id="x2" class="d" x="222.49" y="503.8" textLength="44.24" lengthAdjust="spacingAndGlyphs">200</text><text id="x4" class="d" x="362.80" y="503.8" textLength="43.34" lengthAdjust="spacingAndGlyphs">400</text><text id="x6" class="d" x="502.13" y="503.8" textLength="44.02" lengthAdjust="spacingAndGlyphs">600</text><text id="x8" class="d" x="642.42" y="503.8" textLength="44.01" lengthAdjust="spacingAndGlyphs">800</text></g>
<g><text id="y0" class="d" x="78.95" y="484.6" textLength="15.53" lengthAdjust="spacingAndGlyphs">0</text><text id="y2" class="d" x="56.85" y="391.4" textLength="38.03" lengthAdjust="spacingAndGlyphs">0.2</text><text id="y4" class="d" x="56.85" y="298.5" textLength="37.20" lengthAdjust="spacingAndGlyphs">0.4</text><text id="y6" class="d" x="56.85" y="205.7" textLength="37.35" lengthAdjust="spacingAndGlyphs">0.6</text><text id="y8" class="d" x="56.92" y="112.8" textLength="37.51" lengthAdjust="spacingAndGlyphs">0.8</text><text id="y10" class="d" x="79.72" y="19.6" textLength="14.25" lengthAdjust="spacingAndGlyphs">1</text></g>
<g><text id="s1" x="300.10" y="543.3" textLength="47.84" lengthAdjust="spacingAndGlyphs">Slip</text><text id="s2" class="it" x="359.45" y="543.3" textLength="14.13" lengthAdjust="spacingAndGlyphs">s</text><text id="s3" class="it sub" x="371.92" y="547.8" textLength="10.60" lengthAdjust="spacingAndGlyphs">r</text><text id="s4" x="394.45" y="543.3" textLength="23.20" lengthAdjust="spacingAndGlyphs">in</text><text id="s5" x="427.63" y="543.3" textLength="38.87" lengthAdjust="spacingAndGlyphs">µm</text></g>
<g transform="translate(22.4,354.5) rotate(-90)"><text id="f1" x="-0.78" y="0.0" textLength="135.01" lengthAdjust="spacingAndGlyphs">Force ratio</text><text id="f2" class="it" x="144.21" y="0.0" textLength="20.74" lengthAdjust="spacingAndGlyphs">F</text><text id="f3" class="it sub" x="158.85" y="3.8" textLength="9.93" lengthAdjust="spacingAndGlyphs">t</text><text id="f4" class="sl" x="173.41" y="6.1" textLength="11.56" lengthAdjust="spacingAndGlyphs">/</text><text id="f5" class="it" x="187.73" y="0.0" textLength="20.11" lengthAdjust="spacingAndGlyphs">F</text><text id="f6" class="it sub" x="205.43" y="4.1" textLength="17.09" lengthAdjust="spacingAndGlyphs">N</text></g>
</svg>
</body></html>
